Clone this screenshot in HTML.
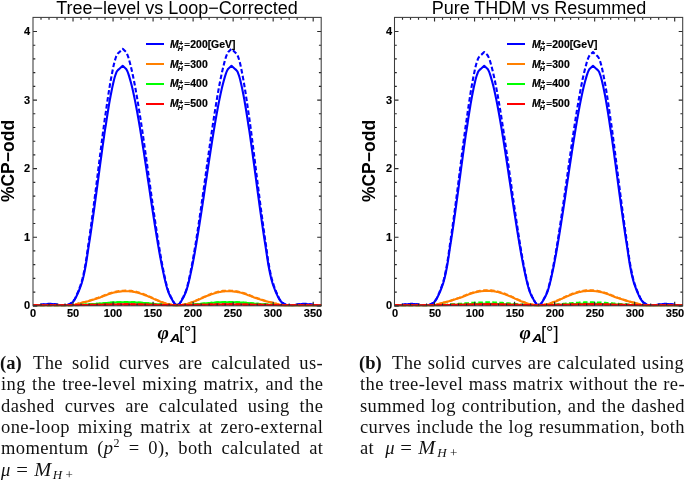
<!DOCTYPE html>
<html><head><meta charset="utf-8"><style>
html,body{margin:0;padding:0;background:#fff;}
.cl,.ttl,.yt,.xt,.yl,.xl,.lt{will-change:transform;}
body{width:685px;height:480px;position:relative;overflow:hidden;font-family:"Liberation Sans",sans-serif;}
svg{position:absolute;left:0;top:0;}
.ttl{position:absolute;top:-2.2px;width:400px;text-align:center;font-size:18px;line-height:20px;white-space:nowrap;color:#000;}
.yt{position:absolute;width:37px;text-align:right;font-weight:bold;font-size:11px;line-height:14px;-webkit-text-stroke:0.15px #000;}
.xt{position:absolute;top:305.8px;width:40px;text-align:center;font-weight:bold;font-size:11px;line-height:14px;-webkit-text-stroke:0.15px #000;}
.yl{position:absolute;width:200px;height:20px;line-height:20px;text-align:center;font-weight:bold;font-size:17.5px;transform:rotate(-90deg);white-space:nowrap;}
.xl{position:absolute;top:322px;width:100px;text-align:center;font-size:18.5px;line-height:20px;white-space:nowrap;}
.xl .phi{font-family:"Liberation Serif";font-size:19.5px;font-weight:bold;position:relative;top:0.8px;}
.xl .sub{display:inline-block;font-weight:bold;font-size:11.8px;position:relative;top:4.0px;margin-left:1.5px;margin-right:0.1px;transform:scaleX(1.22);transform-origin:0 0;}
.xl .br{position:relative;top:0.8px;}
.lg{position:absolute;width:18px;height:2px;}
.lt{position:absolute;font-weight:bold;font-size:10.4px;line-height:14px;white-space:nowrap;-webkit-text-stroke:0.2px #000;}
.lt .ss{display:inline-block;position:relative;width:5px;height:10px;}
.lt .sp{position:absolute;left:0.3px;top:-1.5px;font-size:7px;}
.lt .eq{display:inline-block;transform:scale(0.95,0.62);transform-origin:50% 62%;margin-right:0.6px;}
.lt .sb{position:absolute;left:-0.8px;top:4px;font-size:7px;}
.cl{position:absolute;font-family:"Liberation Serif",serif;font-size:18.5px;line-height:22px;letter-spacing:0.4px;white-space:nowrap;color:#111;}
.cl.j{text-align:justify;text-align-last:justify;white-space:normal;}
.m{position:relative;display:inline-block;width:75px;height:10px;}
.m>*{position:absolute;top:-7.24px;}
.m .s{font-size:13px;top:-1.9px;}
.cl sup{font-size:12px;line-height:0;vertical-align:7px;}
.cl sub{font-size:12px;line-height:0;vertical-align:-4px;}
</style></head><body>
<svg width="685" height="480" viewBox="0 0 685 480">
<clipPath id="c33"><rect x="31.0" y="14.399999999999999" width="292.2" height="291.95000000000005"/></clipPath><g clip-path="url(#c33)">
<path d="M33.0,305.8 33.8,305.8 34.6,305.8 35.4,305.7 36.2,305.6 37.0,305.6 37.8,305.5 38.6,305.3 39.4,305.1 40.2,305.0 41.0,304.8 41.8,304.7 42.6,304.6 43.4,304.5 44.2,304.4 45.0,304.3 45.8,304.2 46.6,304.2 47.4,304.1 48.2,304.1 49.0,304.0 49.8,304.0 50.6,304.0 51.4,304.0 52.2,304.1 53.0,304.1 53.8,304.2 54.6,304.2 55.4,304.3 56.2,304.5 57.0,304.7 57.8,304.8 58.6,305.0 59.4,305.1 60.2,305.1 61.0,305.2 61.8,305.3 62.6,305.3 63.4,305.3 64.2,305.3 65.0,305.2 65.8,305.2 66.6,305.1 67.4,304.9 68.2,304.7 69.0,304.4 69.8,304.0 70.6,303.6 71.4,303.2 72.2,302.5 73.0,301.7 73.8,300.8 74.6,299.7 75.4,298.3 76.2,296.7 77.0,295.1 77.8,293.3 78.6,291.5 79.4,289.5 80.2,287.4 81.0,285.2 81.8,282.8 82.6,280.0 83.4,276.8 84.2,273.2 85.0,269.2 85.8,265.0 86.6,260.2 87.4,254.8 88.2,249.4 89.0,244.2 89.8,239.1 90.6,233.8 91.4,228.4 92.2,222.8 93.0,217.2 93.8,211.5 94.6,205.8 95.4,199.9 96.2,194.1 97.0,188.1 97.8,182.2 98.6,176.2 99.4,170.2 100.2,164.2 101.0,158.3 101.8,152.4 102.6,146.7 103.4,141.0 104.2,135.4 105.0,129.9 105.9,124.5 106.7,119.2 107.5,114.0 108.3,109.0 109.1,104.2 109.9,99.6 110.7,95.3 111.5,91.2 112.3,87.4 113.1,83.7 113.9,80.2 114.7,77.3 115.5,74.8 116.3,72.6 117.1,71.1 117.9,70.1 118.7,69.4 119.5,68.7 122.7,65.8 125.9,68.7 126.7,69.9 127.5,71.5 128.3,73.6 129.1,76.1 129.9,78.9 130.7,81.7 131.5,84.8 132.3,88.1 133.1,91.6 133.9,95.3 134.7,99.1 135.5,103.1 136.3,107.3 137.1,111.6 137.9,116.0 138.7,120.6 139.5,125.3 140.3,130.1 141.1,135.0 141.9,139.9 142.7,145.0 143.5,150.1 144.3,155.3 145.1,160.5 145.9,165.8 146.7,171.1 147.5,176.5 148.3,181.9 149.1,187.2 149.9,192.6 150.7,198.0 151.5,203.3 152.3,208.6 153.1,213.8 153.9,218.9 154.7,224.0 155.5,229.1 156.3,234.0 157.1,238.9 157.9,243.8 158.7,248.4 159.5,253.0 160.3,257.4 161.1,261.6 161.9,265.7 162.7,269.6 163.5,273.4 164.3,277.1 165.1,280.6 165.9,283.8 166.7,286.8 167.5,289.5 168.3,291.9 169.1,293.8 169.9,295.6 170.7,297.2 171.5,298.6 172.3,300.0 173.1,301.4 173.9,302.7 174.7,303.8 175.5,304.6 176.3,305.1 177.1,305.3 177.9,305.1 178.7,304.6 179.5,303.8 180.3,302.7 181.1,301.4 181.9,300.0 182.7,298.6 183.5,297.2 184.3,295.6 185.1,293.8 185.9,291.9 186.7,289.5 187.5,286.8 188.3,283.8 189.1,280.6 189.9,277.1 190.7,273.4 191.5,269.6 192.3,265.7 193.1,261.6 193.9,257.4 194.7,253.0 195.5,248.4 196.3,243.8 197.1,238.9 197.9,234.0 198.7,229.1 199.5,224.0 200.3,218.9 201.1,213.8 201.9,208.6 202.7,203.3 203.5,198.0 204.3,192.6 205.1,187.2 205.9,181.9 206.7,176.5 207.5,171.1 208.3,165.8 209.1,160.5 209.9,155.3 210.7,150.1 211.5,145.0 212.3,139.9 213.1,135.0 213.9,130.1 214.7,125.3 215.5,120.6 216.3,116.0 217.1,111.6 217.9,107.3 218.7,103.1 219.5,99.1 220.3,95.3 221.1,91.6 221.9,88.1 222.7,84.8 223.5,81.7 224.3,78.9 225.1,76.1 225.9,73.6 226.7,71.5 227.5,69.9 228.3,68.7 231.5,65.8 234.7,68.7 235.5,69.4 236.3,70.1 237.1,71.1 237.9,72.6 238.7,74.8 239.5,77.3 240.3,80.2 241.1,83.7 241.9,87.4 242.7,91.2 243.5,95.3 244.3,99.6 245.1,104.2 245.9,109.0 246.7,114.0 247.5,119.2 248.3,124.5 249.2,129.9 250.0,135.4 250.8,141.0 251.6,146.7 252.4,152.4 253.2,158.3 254.0,164.2 254.8,170.2 255.6,176.2 256.4,182.2 257.2,188.1 258.0,194.1 258.8,199.9 259.6,205.8 260.4,211.5 261.2,217.2 262.0,222.8 262.8,228.4 263.6,233.8 264.4,239.1 265.2,244.2 266.0,249.4 266.8,254.8 267.6,260.2 268.4,265.0 269.2,269.2 270.0,273.2 270.8,276.8 271.6,280.0 272.4,282.8 273.2,285.2 274.0,287.4 274.8,289.5 275.6,291.5 276.4,293.3 277.2,295.1 278.0,296.7 278.8,298.3 279.6,299.7 280.4,300.8 281.2,301.7 282.0,302.5 282.8,303.2 283.6,303.6 284.4,304.0 285.2,304.4 286.0,304.7 286.8,304.9 287.6,305.1 288.4,305.2 289.2,305.2 290.0,305.3 290.8,305.3 291.6,305.3 292.4,305.3 293.2,305.2 294.0,305.1 294.8,305.1 295.6,305.0 296.4,304.8 297.2,304.7 298.0,304.5 298.8,304.3 299.6,304.2 300.4,304.2 301.2,304.1 302.0,304.1 302.8,304.0 303.6,304.0 304.4,304.0 305.2,304.0 306.0,304.1 306.8,304.1 307.6,304.2 308.4,304.2 309.2,304.3 310.0,304.4 310.8,304.5 311.6,304.6 312.4,304.7 313.2,304.8 314.0,305.0 314.8,305.1 315.6,305.3 316.4,305.5 317.2,305.6 318.0,305.6 318.8,305.7 319.6,305.8 320.4,305.8 321.2,305.8" fill="none" stroke="#0000ff" stroke-width="2.1" stroke-linejoin="round"/>
<path d="M33.0,305.8 33.8,305.8 34.6,305.8 35.4,305.8 36.2,305.8 37.0,305.8 37.8,305.8 38.6,305.8 39.4,305.8 40.2,305.8 41.0,305.8 41.8,305.8 42.6,305.8 43.4,305.8 44.2,305.8 45.0,305.8 45.8,305.8 46.6,305.8 47.4,305.8 48.2,305.8 49.0,305.8 49.8,305.8 50.6,305.8 51.4,305.8 52.2,305.8 53.0,305.8 53.8,305.8 54.6,305.8 55.4,305.8 56.2,305.8 57.0,305.8 57.8,305.8 58.6,305.8 59.4,305.8 60.2,305.8 61.0,305.8 61.8,305.8 62.6,305.8 63.4,305.8 64.2,305.8 65.0,305.8 65.8,305.8 66.6,305.8 67.4,305.8 68.2,305.8 69.0,305.7 69.8,305.7 70.6,305.6 71.4,305.5 72.2,305.4 73.0,305.3 73.8,305.1 74.6,304.9 75.4,304.6 76.2,304.3 77.0,304.0 77.8,303.8 78.6,303.6 79.4,303.4 80.2,303.2 81.0,303.0 81.8,302.8 82.6,302.6 83.4,302.5 84.2,302.3 85.0,302.1 85.8,301.9 86.6,301.6 87.4,301.4 88.2,301.2 89.0,301.0 89.8,300.7 90.6,300.5 91.4,300.2 92.2,300.0 93.0,299.7 93.8,299.4 94.6,299.2 95.4,298.9 96.2,298.7 97.0,298.4 97.8,298.2 98.6,297.9 99.4,297.7 100.2,297.4 101.0,297.1 101.8,296.8 102.6,296.5 103.4,296.1 104.2,295.8 105.0,295.5 105.9,295.2 106.7,294.9 107.5,294.6 108.3,294.3 109.1,294.0 109.9,293.7 110.7,293.5 111.5,293.2 112.3,293.0 113.1,292.8 113.9,292.6 114.7,292.4 115.5,292.3 116.3,292.1 117.1,292.0 117.9,291.8 118.7,291.7 119.5,291.6 122.7,291.3 125.9,291.2 126.7,291.2 127.5,291.2 128.3,291.3 129.1,291.3 129.9,291.4 130.7,291.5 131.5,291.5 132.3,291.6 133.1,291.7 133.9,291.9 134.7,292.0 135.5,292.2 136.3,292.4 137.1,292.6 137.9,292.8 138.7,293.0 139.5,293.3 140.3,293.5 141.1,293.8 141.9,294.0 142.7,294.3 143.5,294.6 144.3,294.9 145.1,295.2 145.9,295.5 146.7,295.8 147.5,296.1 148.3,296.4 149.1,296.7 149.9,297.1 150.7,297.4 151.5,297.8 152.3,298.2 153.1,298.5 153.9,298.9 154.7,299.2 155.5,299.6 156.3,299.9 157.1,300.3 157.9,300.6 158.7,300.9 159.5,301.3 160.3,301.6 161.1,301.9 161.9,302.2 162.7,302.5 163.5,302.8 164.3,303.1 165.1,303.3 165.9,303.5 166.7,303.8 167.5,304.0 168.3,304.1 169.1,304.3 169.9,304.5 170.7,304.7 171.5,304.8 172.3,305.0 173.1,305.1 173.9,305.3 174.7,305.4 175.5,305.6 176.3,305.7 177.1,305.8 177.9,305.7 178.7,305.6 179.5,305.4 180.3,305.3 181.1,305.1 181.9,305.0 182.7,304.8 183.5,304.7 184.3,304.5 185.1,304.3 185.9,304.1 186.7,304.0 187.5,303.8 188.3,303.5 189.1,303.3 189.9,303.1 190.7,302.8 191.5,302.5 192.3,302.2 193.1,301.9 193.9,301.6 194.7,301.3 195.5,300.9 196.3,300.6 197.1,300.3 197.9,299.9 198.7,299.6 199.5,299.2 200.3,298.9 201.1,298.5 201.9,298.2 202.7,297.8 203.5,297.4 204.3,297.1 205.1,296.7 205.9,296.4 206.7,296.1 207.5,295.8 208.3,295.5 209.1,295.2 209.9,294.9 210.7,294.6 211.5,294.3 212.3,294.0 213.1,293.8 213.9,293.5 214.7,293.3 215.5,293.0 216.3,292.8 217.1,292.6 217.9,292.4 218.7,292.2 219.5,292.0 220.3,291.9 221.1,291.7 221.9,291.6 222.7,291.5 223.5,291.5 224.3,291.4 225.1,291.3 225.9,291.3 226.7,291.2 227.5,291.2 228.3,291.2 231.5,291.3 234.7,291.6 235.5,291.7 236.3,291.8 237.1,292.0 237.9,292.1 238.7,292.3 239.5,292.4 240.3,292.6 241.1,292.8 241.9,293.0 242.7,293.2 243.5,293.5 244.3,293.7 245.1,294.0 245.9,294.3 246.7,294.6 247.5,294.9 248.3,295.2 249.2,295.5 250.0,295.8 250.8,296.1 251.6,296.5 252.4,296.8 253.2,297.1 254.0,297.4 254.8,297.7 255.6,297.9 256.4,298.2 257.2,298.4 258.0,298.7 258.8,298.9 259.6,299.2 260.4,299.4 261.2,299.7 262.0,300.0 262.8,300.2 263.6,300.5 264.4,300.7 265.2,301.0 266.0,301.2 266.8,301.4 267.6,301.6 268.4,301.9 269.2,302.1 270.0,302.3 270.8,302.5 271.6,302.6 272.4,302.8 273.2,303.0 274.0,303.2 274.8,303.4 275.6,303.6 276.4,303.8 277.2,304.0 278.0,304.3 278.8,304.6 279.6,304.9 280.4,305.1 281.2,305.3 282.0,305.4 282.8,305.5 283.6,305.6 284.4,305.7 285.2,305.7 286.0,305.8 286.8,305.8 287.6,305.8 288.4,305.8 289.2,305.8 290.0,305.8 290.8,305.8 291.6,305.8 292.4,305.8 293.2,305.8 294.0,305.8 294.8,305.8 295.6,305.8 296.4,305.8 297.2,305.8 298.0,305.8 298.8,305.8 299.6,305.8 300.4,305.8 301.2,305.8 302.0,305.8 302.8,305.8 303.6,305.8 304.4,305.8 305.2,305.8 306.0,305.8 306.8,305.8 307.6,305.8 308.4,305.8 309.2,305.8 310.0,305.8 310.8,305.8 311.6,305.8 312.4,305.8 313.2,305.8 314.0,305.8 314.8,305.8 315.6,305.8 316.4,305.8 317.2,305.8 318.0,305.8 318.8,305.8 319.6,305.8 320.4,305.8 321.2,305.8" fill="none" stroke="#ff8000" stroke-width="2.1" stroke-linejoin="round"/>
<path d="M33.0,305.5 33.8,305.5 34.6,305.5 35.4,305.5 36.2,305.5 37.0,305.5 37.8,305.5 38.6,305.5 39.4,305.5 40.2,305.5 41.0,305.5 41.8,305.5 42.6,305.5 43.4,305.5 44.2,305.5 45.0,305.5 45.8,305.5 46.6,305.5 47.4,305.5 48.2,305.5 49.0,305.5 49.8,305.5 50.6,305.5 51.4,305.5 52.2,305.5 53.0,305.5 53.8,305.5 54.6,305.5 55.4,305.5 56.2,305.5 57.0,305.5 57.8,305.5 58.6,305.5 59.4,305.5 60.2,305.5 61.0,305.5 61.8,305.5 62.6,305.5 63.4,305.5 64.2,305.5 65.0,305.5 65.8,305.5 66.6,305.5 67.4,305.5 68.2,305.5 69.0,305.5 69.8,305.5 70.6,305.5 71.4,305.5 72.2,305.4 73.0,305.4 73.8,305.4 74.6,305.3 75.4,305.3 76.2,305.2 77.0,305.1 77.8,305.1 78.6,305.0 79.4,305.0 80.2,304.9 81.0,304.9 81.8,304.9 82.6,304.8 83.4,304.8 84.2,304.7 85.0,304.7 85.8,304.6 86.6,304.6 87.4,304.5 88.2,304.5 89.0,304.4 89.8,304.4 90.6,304.3 91.4,304.3 92.2,304.2 93.0,304.2 93.8,304.1 94.6,304.0 95.4,304.0 96.2,303.9 97.0,303.9 97.8,303.8 98.6,303.8 99.4,303.7 100.2,303.6 101.0,303.6 101.8,303.5 102.6,303.4 103.4,303.3 104.2,303.3 105.0,303.2 105.9,303.1 106.7,303.1 107.5,303.0 108.3,302.9 109.1,302.9 109.9,302.8 110.7,302.7 111.5,302.7 112.3,302.6 113.1,302.6 113.9,302.6 114.7,302.5 115.5,302.5 116.3,302.4 117.1,302.4 117.9,302.4 118.7,302.4 119.5,302.3 122.7,302.3 125.9,302.2 126.7,302.2 127.5,302.2 128.3,302.3 129.1,302.3 129.9,302.3 130.7,302.3 131.5,302.3 132.3,302.3 133.1,302.4 133.9,302.4 134.7,302.4 135.5,302.5 136.3,302.5 137.1,302.6 137.9,302.6 138.7,302.7 139.5,302.7 140.3,302.8 141.1,302.8 141.9,302.9 142.7,302.9 143.5,303.0 144.3,303.1 145.1,303.1 145.9,303.2 146.7,303.3 147.5,303.3 148.3,303.4 149.1,303.5 149.9,303.6 150.7,303.6 151.5,303.7 152.3,303.8 153.1,303.9 153.9,304.0 154.7,304.0 155.5,304.1 156.3,304.2 157.1,304.3 157.9,304.4 158.7,304.4 159.5,304.5 160.3,304.6 161.1,304.6 161.9,304.7 162.7,304.8 163.5,304.9 164.3,304.9 165.1,305.0 165.9,305.0 166.7,305.1 167.5,305.1 168.3,305.2 169.1,305.2 169.9,305.2 170.7,305.3 171.5,305.3 172.3,305.3 173.1,305.4 173.9,305.4 174.7,305.4 175.5,305.5 176.3,305.5 177.1,305.5 177.9,305.5 178.7,305.5 179.5,305.4 180.3,305.4 181.1,305.4 181.9,305.3 182.7,305.3 183.5,305.3 184.3,305.2 185.1,305.2 185.9,305.2 186.7,305.1 187.5,305.1 188.3,305.0 189.1,305.0 189.9,304.9 190.7,304.9 191.5,304.8 192.3,304.7 193.1,304.6 193.9,304.6 194.7,304.5 195.5,304.4 196.3,304.4 197.1,304.3 197.9,304.2 198.7,304.1 199.5,304.0 200.3,304.0 201.1,303.9 201.9,303.8 202.7,303.7 203.5,303.6 204.3,303.6 205.1,303.5 205.9,303.4 206.7,303.3 207.5,303.3 208.3,303.2 209.1,303.1 209.9,303.1 210.7,303.0 211.5,302.9 212.3,302.9 213.1,302.8 213.9,302.8 214.7,302.7 215.5,302.7 216.3,302.6 217.1,302.6 217.9,302.5 218.7,302.5 219.5,302.4 220.3,302.4 221.1,302.4 221.9,302.3 222.7,302.3 223.5,302.3 224.3,302.3 225.1,302.3 225.9,302.3 226.7,302.2 227.5,302.2 228.3,302.2 231.5,302.3 234.7,302.3 235.5,302.4 236.3,302.4 237.1,302.4 237.9,302.4 238.7,302.5 239.5,302.5 240.3,302.6 241.1,302.6 241.9,302.6 242.7,302.7 243.5,302.7 244.3,302.8 245.1,302.9 245.9,302.9 246.7,303.0 247.5,303.1 248.3,303.1 249.2,303.2 250.0,303.3 250.8,303.3 251.6,303.4 252.4,303.5 253.2,303.6 254.0,303.6 254.8,303.7 255.6,303.8 256.4,303.8 257.2,303.9 258.0,303.9 258.8,304.0 259.6,304.0 260.4,304.1 261.2,304.2 262.0,304.2 262.8,304.3 263.6,304.3 264.4,304.4 265.2,304.4 266.0,304.5 266.8,304.5 267.6,304.6 268.4,304.6 269.2,304.7 270.0,304.7 270.8,304.8 271.6,304.8 272.4,304.9 273.2,304.9 274.0,304.9 274.8,305.0 275.6,305.0 276.4,305.1 277.2,305.1 278.0,305.2 278.8,305.3 279.6,305.3 280.4,305.4 281.2,305.4 282.0,305.4 282.8,305.5 283.6,305.5 284.4,305.5 285.2,305.5 286.0,305.5 286.8,305.5 287.6,305.5 288.4,305.5 289.2,305.5 290.0,305.5 290.8,305.5 291.6,305.5 292.4,305.5 293.2,305.5 294.0,305.5 294.8,305.5 295.6,305.5 296.4,305.5 297.2,305.5 298.0,305.5 298.8,305.5 299.6,305.5 300.4,305.5 301.2,305.5 302.0,305.5 302.8,305.5 303.6,305.5 304.4,305.5 305.2,305.5 306.0,305.5 306.8,305.5 307.6,305.5 308.4,305.5 309.2,305.5 310.0,305.5 310.8,305.5 311.6,305.5 312.4,305.5 313.2,305.5 314.0,305.5 314.8,305.5 315.6,305.5 316.4,305.5 317.2,305.5 318.0,305.5 318.8,305.5 319.6,305.5 320.4,305.5 321.2,305.5" fill="none" stroke="#00ff00" stroke-width="2.1" stroke-linejoin="round"/>
<path d="M33.0,305.8 33.8,305.8 34.6,305.7 35.4,305.7 36.2,305.6 37.0,305.5 37.8,305.4 38.6,305.3 39.4,305.1 40.2,304.9 41.0,304.8 41.8,304.6 42.6,304.5 43.4,304.4 44.2,304.3 45.0,304.2 45.8,304.1 46.6,304.1 47.4,304.0 48.2,303.9 49.0,303.9 49.8,303.9 50.6,303.9 51.4,303.9 52.2,303.9 53.0,304.0 53.8,304.1 54.6,304.1 55.4,304.2 56.2,304.4 57.0,304.6 57.8,304.8 58.6,304.9 59.4,305.0 60.2,305.1 61.0,305.2 61.8,305.2 62.6,305.3 63.4,305.3 64.2,305.3 65.0,305.2 65.8,305.1 66.6,305.0 67.4,304.9 68.2,304.6 69.0,304.3 69.8,303.9 70.6,303.5 71.4,303.0 72.2,302.3 73.0,301.5 73.8,300.4 74.6,299.3 75.4,297.8 76.2,296.1 77.0,294.3 77.8,292.4 78.6,290.4 79.4,288.3 80.2,286.1 81.0,283.7 81.8,281.1 82.6,278.2 83.4,274.8 84.2,270.9 85.0,266.7 85.8,262.1 86.6,256.9 87.4,251.2 88.2,245.4 89.0,239.9 89.8,234.4 90.6,228.7 91.4,222.9 92.2,217.0 93.0,211.0 93.8,204.9 94.6,198.7 95.4,192.5 96.2,186.2 97.0,179.8 97.8,173.5 98.6,167.0 99.4,160.6 100.2,154.2 101.0,147.9 101.8,141.6 102.6,135.4 103.4,129.3 104.2,123.3 105.0,117.4 105.9,111.7 106.7,106.0 107.5,100.5 108.3,95.1 109.1,90.0 109.9,85.1 110.7,80.4 111.5,76.1 112.3,72.0 113.1,68.0 113.9,64.3 114.7,61.2 115.5,58.5 116.3,56.2 117.1,54.5 117.9,53.4 118.7,52.7 119.5,51.9 122.7,48.8 125.9,51.9 126.7,53.2 127.5,55.0 128.3,57.2 129.1,59.9 129.9,62.8 130.7,65.9 131.5,69.2 132.3,72.7 133.1,76.5 133.9,80.4 134.7,84.5 135.5,88.8 136.3,93.3 137.1,97.9 137.9,102.7 138.7,107.6 139.5,112.6 140.3,117.7 141.1,122.9 141.9,128.2 142.7,133.6 143.5,139.1 144.3,144.7 145.1,150.3 145.9,155.9 146.7,161.6 147.5,167.4 148.3,173.1 149.1,178.9 149.9,184.6 150.7,190.4 151.5,196.1 152.3,201.7 153.1,207.3 153.9,212.8 154.7,218.2 155.5,223.6 156.3,229.0 157.1,234.2 157.9,239.4 158.7,244.4 159.5,249.2 160.3,254.0 161.1,258.5 161.9,262.9 162.7,267.1 163.5,271.1 164.3,275.0 165.1,278.8 165.9,282.3 166.7,285.5 167.5,288.4 168.3,290.9 169.1,293.0 169.9,294.8 170.7,296.5 171.5,298.1 172.3,299.6 173.1,301.1 173.9,302.5 174.7,303.6 175.5,304.5 176.3,305.0 177.1,305.3 177.9,305.0 178.7,304.5 179.5,303.6 180.3,302.5 181.1,301.1 181.9,299.6 182.7,298.1 183.5,296.5 184.3,294.8 185.1,293.0 185.9,290.9 186.7,288.4 187.5,285.5 188.3,282.3 189.1,278.8 189.9,275.0 190.7,271.1 191.5,267.1 192.3,262.9 193.1,258.5 193.9,254.0 194.7,249.2 195.5,244.4 196.3,239.4 197.1,234.2 197.9,229.0 198.7,223.6 199.5,218.2 200.3,212.8 201.1,207.3 201.9,201.7 202.7,196.1 203.5,190.4 204.3,184.6 205.1,178.9 205.9,173.1 206.7,167.4 207.5,161.6 208.3,155.9 209.1,150.3 209.9,144.7 210.7,139.1 211.5,133.6 212.3,128.2 213.1,122.9 213.9,117.7 214.7,112.6 215.5,107.6 216.3,102.7 217.1,97.9 217.9,93.3 218.7,88.8 219.5,84.5 220.3,80.4 221.1,76.5 221.9,72.7 222.7,69.2 223.5,65.9 224.3,62.8 225.1,59.9 225.9,57.2 226.7,55.0 227.5,53.2 228.3,51.9 231.5,48.8 234.7,51.9 235.5,52.7 236.3,53.4 237.1,54.5 237.9,56.2 238.7,58.5 239.5,61.2 240.3,64.3 241.1,68.0 241.9,72.0 242.7,76.1 243.5,80.4 244.3,85.1 245.1,90.0 245.9,95.1 246.7,100.5 247.5,106.0 248.3,111.7 249.2,117.4 250.0,123.3 250.8,129.3 251.6,135.4 252.4,141.6 253.2,147.9 254.0,154.2 254.8,160.6 255.6,167.0 256.4,173.5 257.2,179.8 258.0,186.2 258.8,192.5 259.6,198.7 260.4,204.9 261.2,211.0 262.0,217.0 262.8,222.9 263.6,228.7 264.4,234.4 265.2,239.9 266.0,245.4 266.8,251.2 267.6,256.9 268.4,262.1 269.2,266.7 270.0,270.9 270.8,274.8 271.6,278.2 272.4,281.1 273.2,283.7 274.0,286.1 274.8,288.3 275.6,290.4 276.4,292.4 277.2,294.3 278.0,296.1 278.8,297.8 279.6,299.3 280.4,300.4 281.2,301.5 282.0,302.3 282.8,303.0 283.6,303.5 284.4,303.9 285.2,304.3 286.0,304.6 286.8,304.9 287.6,305.0 288.4,305.1 289.2,305.2 290.0,305.3 290.8,305.3 291.6,305.3 292.4,305.2 293.2,305.2 294.0,305.1 294.8,305.0 295.6,304.9 296.4,304.8 297.2,304.6 298.0,304.4 298.8,304.2 299.6,304.1 300.4,304.1 301.2,304.0 302.0,303.9 302.8,303.9 303.6,303.9 304.4,303.9 305.2,303.9 306.0,303.9 306.8,304.0 307.6,304.1 308.4,304.1 309.2,304.2 310.0,304.3 310.8,304.4 311.6,304.5 312.4,304.6 313.2,304.8 314.0,304.9 314.8,305.1 315.6,305.3 316.4,305.4 317.2,305.5 318.0,305.6 318.8,305.7 319.6,305.7 320.4,305.8 321.2,305.8" fill="none" stroke="#0000ff" stroke-width="2.1" stroke-linejoin="round" stroke-dasharray="4.6,2.4"/>
<path d="M33.0,305.8 33.8,305.8 34.6,305.8 35.4,305.8 36.2,305.8 37.0,305.8 37.8,305.8 38.6,305.8 39.4,305.8 40.2,305.8 41.0,305.8 41.8,305.8 42.6,305.8 43.4,305.8 44.2,305.8 45.0,305.8 45.8,305.8 46.6,305.8 47.4,305.8 48.2,305.8 49.0,305.8 49.8,305.8 50.6,305.8 51.4,305.8 52.2,305.8 53.0,305.8 53.8,305.8 54.6,305.8 55.4,305.8 56.2,305.8 57.0,305.8 57.8,305.8 58.6,305.8 59.4,305.8 60.2,305.8 61.0,305.8 61.8,305.8 62.6,305.8 63.4,305.8 64.2,305.8 65.0,305.8 65.8,305.8 66.6,305.8 67.4,305.8 68.2,305.8 69.0,305.7 69.8,305.7 70.6,305.6 71.4,305.5 72.2,305.4 73.0,305.3 73.8,305.1 74.6,304.8 75.4,304.6 76.2,304.3 77.0,304.0 77.8,303.7 78.6,303.5 79.4,303.3 80.2,303.1 81.0,302.9 81.8,302.7 82.6,302.5 83.4,302.3 84.2,302.1 85.0,301.9 85.8,301.7 86.6,301.5 87.4,301.2 88.2,301.0 89.0,300.8 89.8,300.5 90.6,300.3 91.4,300.0 92.2,299.7 93.0,299.5 93.8,299.2 94.6,298.9 95.4,298.6 96.2,298.4 97.0,298.1 97.8,297.9 98.6,297.6 99.4,297.3 100.2,297.0 101.0,296.7 101.8,296.4 102.6,296.1 103.4,295.7 104.2,295.4 105.0,295.1 105.9,294.8 106.7,294.4 107.5,294.1 108.3,293.8 109.1,293.5 109.9,293.2 110.7,292.9 111.5,292.7 112.3,292.5 113.1,292.3 113.9,292.1 114.7,291.9 115.5,291.7 116.3,291.5 117.1,291.4 117.9,291.2 118.7,291.1 119.5,291.0 122.7,290.7 125.9,290.6 126.7,290.6 127.5,290.6 128.3,290.7 129.1,290.7 129.9,290.8 130.7,290.9 131.5,290.9 132.3,291.0 133.1,291.1 133.9,291.3 134.7,291.4 135.5,291.6 136.3,291.8 137.1,292.1 137.9,292.3 138.7,292.5 139.5,292.7 140.3,293.0 141.1,293.2 141.9,293.5 142.7,293.8 143.5,294.1 144.3,294.4 145.1,294.7 145.9,295.0 146.7,295.4 147.5,295.7 148.3,296.0 149.1,296.4 149.9,296.7 150.7,297.1 151.5,297.5 152.3,297.8 153.1,298.2 153.9,298.6 154.7,299.0 155.5,299.3 156.3,299.7 157.1,300.0 157.9,300.4 158.7,300.7 159.5,301.1 160.3,301.4 161.1,301.7 161.9,302.1 162.7,302.4 163.5,302.7 164.3,303.0 165.1,303.2 165.9,303.4 166.7,303.7 167.5,303.9 168.3,304.1 169.1,304.3 169.9,304.4 170.7,304.6 171.5,304.8 172.3,305.0 173.1,305.1 173.9,305.3 174.7,305.4 175.5,305.5 176.3,305.7 177.1,305.8 177.9,305.7 178.7,305.5 179.5,305.4 180.3,305.3 181.1,305.1 181.9,305.0 182.7,304.8 183.5,304.6 184.3,304.4 185.1,304.3 185.9,304.1 186.7,303.9 187.5,303.7 188.3,303.4 189.1,303.2 189.9,303.0 190.7,302.7 191.5,302.4 192.3,302.1 193.1,301.7 193.9,301.4 194.7,301.1 195.5,300.7 196.3,300.4 197.1,300.0 197.9,299.7 198.7,299.3 199.5,299.0 200.3,298.6 201.1,298.2 201.9,297.8 202.7,297.5 203.5,297.1 204.3,296.7 205.1,296.4 205.9,296.0 206.7,295.7 207.5,295.4 208.3,295.0 209.1,294.7 209.9,294.4 210.7,294.1 211.5,293.8 212.3,293.5 213.1,293.2 213.9,293.0 214.7,292.7 215.5,292.5 216.3,292.3 217.1,292.1 217.9,291.8 218.7,291.6 219.5,291.4 220.3,291.3 221.1,291.1 221.9,291.0 222.7,290.9 223.5,290.9 224.3,290.8 225.1,290.7 225.9,290.7 226.7,290.6 227.5,290.6 228.3,290.6 231.5,290.7 234.7,291.0 235.5,291.1 236.3,291.2 237.1,291.4 237.9,291.5 238.7,291.7 239.5,291.9 240.3,292.1 241.1,292.3 241.9,292.5 242.7,292.7 243.5,292.9 244.3,293.2 245.1,293.5 245.9,293.8 246.7,294.1 247.5,294.4 248.3,294.8 249.2,295.1 250.0,295.4 250.8,295.7 251.6,296.1 252.4,296.4 253.2,296.7 254.0,297.0 254.8,297.3 255.6,297.6 256.4,297.9 257.2,298.1 258.0,298.4 258.8,298.6 259.6,298.9 260.4,299.2 261.2,299.5 262.0,299.7 262.8,300.0 263.6,300.3 264.4,300.5 265.2,300.8 266.0,301.0 266.8,301.2 267.6,301.5 268.4,301.7 269.2,301.9 270.0,302.1 270.8,302.3 271.6,302.5 272.4,302.7 273.2,302.9 274.0,303.1 274.8,303.3 275.6,303.5 276.4,303.7 277.2,304.0 278.0,304.3 278.8,304.6 279.6,304.8 280.4,305.1 281.2,305.3 282.0,305.4 282.8,305.5 283.6,305.6 284.4,305.7 285.2,305.7 286.0,305.8 286.8,305.8 287.6,305.8 288.4,305.8 289.2,305.8 290.0,305.8 290.8,305.8 291.6,305.8 292.4,305.8 293.2,305.8 294.0,305.8 294.8,305.8 295.6,305.8 296.4,305.8 297.2,305.8 298.0,305.8 298.8,305.8 299.6,305.8 300.4,305.8 301.2,305.8 302.0,305.8 302.8,305.8 303.6,305.8 304.4,305.8 305.2,305.8 306.0,305.8 306.8,305.8 307.6,305.8 308.4,305.8 309.2,305.8 310.0,305.8 310.8,305.8 311.6,305.8 312.4,305.8 313.2,305.8 314.0,305.8 314.8,305.8 315.6,305.8 316.4,305.8 317.2,305.8 318.0,305.8 318.8,305.8 319.6,305.8 320.4,305.8 321.2,305.8" fill="none" stroke="#ff8000" stroke-width="2.1" stroke-linejoin="round" stroke-dasharray="4.6,2.4"/>
<path d="M33.0,305.5 33.8,305.5 34.6,305.5 35.4,305.5 36.2,305.5 37.0,305.5 37.8,305.5 38.6,305.5 39.4,305.5 40.2,305.5 41.0,305.5 41.8,305.5 42.6,305.5 43.4,305.5 44.2,305.5 45.0,305.5 45.8,305.5 46.6,305.5 47.4,305.5 48.2,305.5 49.0,305.5 49.8,305.5 50.6,305.5 51.4,305.5 52.2,305.5 53.0,305.5 53.8,305.5 54.6,305.5 55.4,305.5 56.2,305.5 57.0,305.5 57.8,305.5 58.6,305.5 59.4,305.5 60.2,305.5 61.0,305.5 61.8,305.5 62.6,305.5 63.4,305.5 64.2,305.5 65.0,305.5 65.8,305.5 66.6,305.5 67.4,305.5 68.2,305.5 69.0,305.5 69.8,305.5 70.6,305.5 71.4,305.5 72.2,305.4 73.0,305.4 73.8,305.4 74.6,305.3 75.4,305.2 76.2,305.2 77.0,305.1 77.8,305.1 78.6,305.0 79.4,305.0 80.2,304.9 81.0,304.9 81.8,304.8 82.6,304.8 83.4,304.7 84.2,304.7 85.0,304.6 85.8,304.6 86.6,304.5 87.4,304.5 88.2,304.4 89.0,304.4 89.8,304.3 90.6,304.3 91.4,304.2 92.2,304.2 93.0,304.1 93.8,304.0 94.6,304.0 95.4,303.9 96.2,303.9 97.0,303.8 97.8,303.7 98.6,303.7 99.4,303.6 100.2,303.6 101.0,303.5 101.8,303.4 102.6,303.3 103.4,303.3 104.2,303.2 105.0,303.1 105.9,303.0 106.7,303.0 107.5,302.9 108.3,302.8 109.1,302.8 109.9,302.7 110.7,302.6 111.5,302.6 112.3,302.5 113.1,302.5 113.9,302.4 114.7,302.4 115.5,302.4 116.3,302.3 117.1,302.3 117.9,302.2 118.7,302.2 119.5,302.2 122.7,302.1 125.9,302.1 126.7,302.1 127.5,302.1 128.3,302.1 129.1,302.1 129.9,302.1 130.7,302.2 131.5,302.2 132.3,302.2 133.1,302.2 133.9,302.3 134.7,302.3 135.5,302.3 136.3,302.4 137.1,302.4 137.9,302.5 138.7,302.5 139.5,302.6 140.3,302.6 141.1,302.7 141.9,302.8 142.7,302.8 143.5,302.9 144.3,303.0 145.1,303.0 145.9,303.1 146.7,303.2 147.5,303.2 148.3,303.3 149.1,303.4 149.9,303.5 150.7,303.6 151.5,303.6 152.3,303.7 153.1,303.8 153.9,303.9 154.7,304.0 155.5,304.1 156.3,304.1 157.1,304.2 157.9,304.3 158.7,304.4 159.5,304.5 160.3,304.5 161.1,304.6 161.9,304.7 162.7,304.8 163.5,304.8 164.3,304.9 165.1,304.9 165.9,305.0 166.7,305.0 167.5,305.1 168.3,305.1 169.1,305.2 169.9,305.2 170.7,305.3 171.5,305.3 172.3,305.3 173.1,305.4 173.9,305.4 174.7,305.4 175.5,305.5 176.3,305.5 177.1,305.5 177.9,305.5 178.7,305.5 179.5,305.4 180.3,305.4 181.1,305.4 181.9,305.3 182.7,305.3 183.5,305.3 184.3,305.2 185.1,305.2 185.9,305.1 186.7,305.1 187.5,305.0 188.3,305.0 189.1,304.9 189.9,304.9 190.7,304.8 191.5,304.8 192.3,304.7 193.1,304.6 193.9,304.5 194.7,304.5 195.5,304.4 196.3,304.3 197.1,304.2 197.9,304.1 198.7,304.1 199.5,304.0 200.3,303.9 201.1,303.8 201.9,303.7 202.7,303.6 203.5,303.6 204.3,303.5 205.1,303.4 205.9,303.3 206.7,303.2 207.5,303.2 208.3,303.1 209.1,303.0 209.9,303.0 210.7,302.9 211.5,302.8 212.3,302.8 213.1,302.7 213.9,302.6 214.7,302.6 215.5,302.5 216.3,302.5 217.1,302.4 217.9,302.4 218.7,302.3 219.5,302.3 220.3,302.3 221.1,302.2 221.9,302.2 222.7,302.2 223.5,302.2 224.3,302.1 225.1,302.1 225.9,302.1 226.7,302.1 227.5,302.1 228.3,302.1 231.5,302.1 234.7,302.2 235.5,302.2 236.3,302.2 237.1,302.3 237.9,302.3 238.7,302.4 239.5,302.4 240.3,302.4 241.1,302.5 241.9,302.5 242.7,302.6 243.5,302.6 244.3,302.7 245.1,302.8 245.9,302.8 246.7,302.9 247.5,303.0 248.3,303.0 249.2,303.1 250.0,303.2 250.8,303.3 251.6,303.3 252.4,303.4 253.2,303.5 254.0,303.6 254.8,303.6 255.6,303.7 256.4,303.7 257.2,303.8 258.0,303.9 258.8,303.9 259.6,304.0 260.4,304.0 261.2,304.1 262.0,304.2 262.8,304.2 263.6,304.3 264.4,304.3 265.2,304.4 266.0,304.4 266.8,304.5 267.6,304.5 268.4,304.6 269.2,304.6 270.0,304.7 270.8,304.7 271.6,304.8 272.4,304.8 273.2,304.9 274.0,304.9 274.8,305.0 275.6,305.0 276.4,305.1 277.2,305.1 278.0,305.2 278.8,305.2 279.6,305.3 280.4,305.4 281.2,305.4 282.0,305.4 282.8,305.5 283.6,305.5 284.4,305.5 285.2,305.5 286.0,305.5 286.8,305.5 287.6,305.5 288.4,305.5 289.2,305.5 290.0,305.5 290.8,305.5 291.6,305.5 292.4,305.5 293.2,305.5 294.0,305.5 294.8,305.5 295.6,305.5 296.4,305.5 297.2,305.5 298.0,305.5 298.8,305.5 299.6,305.5 300.4,305.5 301.2,305.5 302.0,305.5 302.8,305.5 303.6,305.5 304.4,305.5 305.2,305.5 306.0,305.5 306.8,305.5 307.6,305.5 308.4,305.5 309.2,305.5 310.0,305.5 310.8,305.5 311.6,305.5 312.4,305.5 313.2,305.5 314.0,305.5 314.8,305.5 315.6,305.5 316.4,305.5 317.2,305.5 318.0,305.5 318.8,305.5 319.6,305.5 320.4,305.5 321.2,305.5" fill="none" stroke="#00ff00" stroke-width="2.1" stroke-linejoin="round" stroke-dasharray="4.6,2.4"/>
<path d="M33.0,305.2 33.8,305.2 34.6,305.2 35.4,305.2 36.2,305.2 37.0,305.2 37.8,305.2 38.6,305.2 39.4,305.2 40.2,305.2 41.0,305.2 41.8,305.2 42.6,305.2 43.4,305.2 44.2,305.2 45.0,305.2 45.8,305.2 46.6,305.2 47.4,305.2 48.2,305.2 49.0,305.2 49.8,305.2 50.6,305.2 51.4,305.2 52.2,305.2 53.0,305.2 53.8,305.2 54.6,305.2 55.4,305.2 56.2,305.2 57.0,305.2 57.8,305.2 58.6,305.2 59.4,305.2 60.2,305.2 61.0,305.2 61.8,305.2 62.6,305.2 63.4,305.2 64.2,305.2 65.0,305.2 65.8,305.2 66.6,305.2 67.4,305.2 68.2,305.2 69.0,305.2 69.8,305.2 70.6,305.2 71.4,305.2 72.2,305.2 73.0,305.2 73.8,305.1 74.6,305.1 75.4,305.1 76.2,305.1 77.0,305.1 77.8,305.1 78.6,305.1 79.4,305.0 80.2,305.0 81.0,305.0 81.8,305.0 82.6,305.0 83.4,305.0 84.2,305.0 85.0,305.0 85.8,305.0 86.6,304.9 87.4,304.9 88.2,304.9 89.0,304.9 89.8,304.9 90.6,304.9 91.4,304.9 92.2,304.9 93.0,304.8 93.8,304.8 94.6,304.8 95.4,304.8 96.2,304.8 97.0,304.8 97.8,304.8 98.6,304.7 99.4,304.7 100.2,304.7 101.0,304.7 101.8,304.7 102.6,304.7 103.4,304.6 104.2,304.6 105.0,304.6 105.9,304.6 106.7,304.6 107.5,304.6 108.3,304.5 109.1,304.5 109.9,304.5 110.7,304.5 111.5,304.5 112.3,304.5 113.1,304.5 113.9,304.4 114.7,304.4 115.5,304.4 116.3,304.4 117.1,304.4 117.9,304.4 118.7,304.4 119.5,304.4 122.7,304.4 125.9,304.4 126.7,304.4 127.5,304.4 128.3,304.4 129.1,304.4 129.9,304.4 130.7,304.4 131.5,304.4 132.3,304.4 133.1,304.4 133.9,304.4 134.7,304.4 135.5,304.4 136.3,304.4 137.1,304.4 137.9,304.5 138.7,304.5 139.5,304.5 140.3,304.5 141.1,304.5 141.9,304.5 142.7,304.5 143.5,304.6 144.3,304.6 145.1,304.6 145.9,304.6 146.7,304.6 147.5,304.6 148.3,304.7 149.1,304.7 149.9,304.7 150.7,304.7 151.5,304.7 152.3,304.8 153.1,304.8 153.9,304.8 154.7,304.8 155.5,304.8 156.3,304.9 157.1,304.9 157.9,304.9 158.7,304.9 159.5,304.9 160.3,304.9 161.1,305.0 161.9,305.0 162.7,305.0 163.5,305.0 164.3,305.0 165.1,305.0 165.9,305.1 166.7,305.1 167.5,305.1 168.3,305.1 169.1,305.1 169.9,305.1 170.7,305.1 171.5,305.1 172.3,305.1 173.1,305.1 173.9,305.2 174.7,305.2 175.5,305.2 176.3,305.2 177.1,305.2 177.9,305.2 178.7,305.2 179.5,305.2 180.3,305.2 181.1,305.1 181.9,305.1 182.7,305.1 183.5,305.1 184.3,305.1 185.1,305.1 185.9,305.1 186.7,305.1 187.5,305.1 188.3,305.1 189.1,305.0 189.9,305.0 190.7,305.0 191.5,305.0 192.3,305.0 193.1,305.0 193.9,304.9 194.7,304.9 195.5,304.9 196.3,304.9 197.1,304.9 197.9,304.9 198.7,304.8 199.5,304.8 200.3,304.8 201.1,304.8 201.9,304.8 202.7,304.7 203.5,304.7 204.3,304.7 205.1,304.7 205.9,304.7 206.7,304.6 207.5,304.6 208.3,304.6 209.1,304.6 209.9,304.6 210.7,304.6 211.5,304.5 212.3,304.5 213.1,304.5 213.9,304.5 214.7,304.5 215.5,304.5 216.3,304.5 217.1,304.4 217.9,304.4 218.7,304.4 219.5,304.4 220.3,304.4 221.1,304.4 221.9,304.4 222.7,304.4 223.5,304.4 224.3,304.4 225.1,304.4 225.9,304.4 226.7,304.4 227.5,304.4 228.3,304.4 231.5,304.4 234.7,304.4 235.5,304.4 236.3,304.4 237.1,304.4 237.9,304.4 238.7,304.4 239.5,304.4 240.3,304.4 241.1,304.5 241.9,304.5 242.7,304.5 243.5,304.5 244.3,304.5 245.1,304.5 245.9,304.5 246.7,304.6 247.5,304.6 248.3,304.6 249.2,304.6 250.0,304.6 250.8,304.6 251.6,304.7 252.4,304.7 253.2,304.7 254.0,304.7 254.8,304.7 255.6,304.7 256.4,304.8 257.2,304.8 258.0,304.8 258.8,304.8 259.6,304.8 260.4,304.8 261.2,304.8 262.0,304.9 262.8,304.9 263.6,304.9 264.4,304.9 265.2,304.9 266.0,304.9 266.8,304.9 267.6,304.9 268.4,305.0 269.2,305.0 270.0,305.0 270.8,305.0 271.6,305.0 272.4,305.0 273.2,305.0 274.0,305.0 274.8,305.0 275.6,305.1 276.4,305.1 277.2,305.1 278.0,305.1 278.8,305.1 279.6,305.1 280.4,305.1 281.2,305.2 282.0,305.2 282.8,305.2 283.6,305.2 284.4,305.2 285.2,305.2 286.0,305.2 286.8,305.2 287.6,305.2 288.4,305.2 289.2,305.2 290.0,305.2 290.8,305.2 291.6,305.2 292.4,305.2 293.2,305.2 294.0,305.2 294.8,305.2 295.6,305.2 296.4,305.2 297.2,305.2 298.0,305.2 298.8,305.2 299.6,305.2 300.4,305.2 301.2,305.2 302.0,305.2 302.8,305.2 303.6,305.2 304.4,305.2 305.2,305.2 306.0,305.2 306.8,305.2 307.6,305.2 308.4,305.2 309.2,305.2 310.0,305.2 310.8,305.2 311.6,305.2 312.4,305.2 313.2,305.2 314.0,305.2 314.8,305.2 315.6,305.2 316.4,305.2 317.2,305.2 318.0,305.2 318.8,305.2 319.6,305.2 320.4,305.2 321.2,305.2" fill="none" stroke="#ff0000" stroke-width="2.1" stroke-linejoin="round" stroke-dasharray="4.6,2.4"/>
<path d="M33.0,305.3 33.8,305.3 34.6,305.3 35.4,305.3 36.2,305.3 37.0,305.3 37.8,305.3 38.6,305.3 39.4,305.3 40.2,305.3 41.0,305.3 41.8,305.3 42.6,305.3 43.4,305.3 44.2,305.3 45.0,305.3 45.8,305.3 46.6,305.3 47.4,305.3 48.2,305.3 49.0,305.3 49.8,305.3 50.6,305.3 51.4,305.3 52.2,305.3 53.0,305.3 53.8,305.3 54.6,305.3 55.4,305.3 56.2,305.3 57.0,305.3 57.8,305.3 58.6,305.3 59.4,305.3 60.2,305.3 61.0,305.3 61.8,305.3 62.6,305.3 63.4,305.3 64.2,305.3 65.0,305.3 65.8,305.3 66.6,305.3 67.4,305.3 68.2,305.2 69.0,305.2 69.8,305.2 70.6,305.2 71.4,305.2 72.2,305.2 73.0,305.2 73.8,305.2 74.6,305.2 75.4,305.2 76.2,305.2 77.0,305.2 77.8,305.1 78.6,305.1 79.4,305.1 80.2,305.1 81.0,305.1 81.8,305.1 82.6,305.1 83.4,305.1 84.2,305.1 85.0,305.0 85.8,305.0 86.6,305.0 87.4,305.0 88.2,305.0 89.0,305.0 89.8,305.0 90.6,305.0 91.4,304.9 92.2,304.9 93.0,304.9 93.8,304.9 94.6,304.9 95.4,304.9 96.2,304.9 97.0,304.8 97.8,304.8 98.6,304.8 99.4,304.8 100.2,304.8 101.0,304.8 101.8,304.7 102.6,304.7 103.4,304.7 104.2,304.7 105.0,304.7 105.9,304.7 106.7,304.6 107.5,304.6 108.3,304.6 109.1,304.6 109.9,304.6 110.7,304.6 111.5,304.5 112.3,304.5 113.1,304.5 113.9,304.5 114.7,304.5 115.5,304.5 116.3,304.5 117.1,304.5 117.9,304.5 118.7,304.5 119.5,304.5 122.7,304.4 125.9,304.4 126.7,304.4 127.5,304.4 128.3,304.4 129.1,304.4 129.9,304.4 130.7,304.4 131.5,304.4 132.3,304.5 133.1,304.5 133.9,304.5 134.7,304.5 135.5,304.5 136.3,304.5 137.1,304.5 137.9,304.5 138.7,304.5 139.5,304.5 140.3,304.6 141.1,304.6 141.9,304.6 142.7,304.6 143.5,304.6 144.3,304.6 145.1,304.7 145.9,304.7 146.7,304.7 147.5,304.7 148.3,304.7 149.1,304.7 149.9,304.8 150.7,304.8 151.5,304.8 152.3,304.8 153.1,304.8 153.9,304.9 154.7,304.9 155.5,304.9 156.3,304.9 157.1,304.9 157.9,305.0 158.7,305.0 159.5,305.0 160.3,305.0 161.1,305.0 161.9,305.1 162.7,305.1 163.5,305.1 164.3,305.1 165.1,305.1 165.9,305.1 166.7,305.1 167.5,305.1 168.3,305.2 169.1,305.2 169.9,305.2 170.7,305.2 171.5,305.2 172.3,305.2 173.1,305.2 173.9,305.2 174.7,305.2 175.5,305.2 176.3,305.2 177.1,305.3 177.9,305.2 178.7,305.2 179.5,305.2 180.3,305.2 181.1,305.2 181.9,305.2 182.7,305.2 183.5,305.2 184.3,305.2 185.1,305.2 185.9,305.2 186.7,305.1 187.5,305.1 188.3,305.1 189.1,305.1 189.9,305.1 190.7,305.1 191.5,305.1 192.3,305.1 193.1,305.0 193.9,305.0 194.7,305.0 195.5,305.0 196.3,305.0 197.1,304.9 197.9,304.9 198.7,304.9 199.5,304.9 200.3,304.9 201.1,304.8 201.9,304.8 202.7,304.8 203.5,304.8 204.3,304.8 205.1,304.7 205.9,304.7 206.7,304.7 207.5,304.7 208.3,304.7 209.1,304.7 209.9,304.6 210.7,304.6 211.5,304.6 212.3,304.6 213.1,304.6 213.9,304.6 214.7,304.5 215.5,304.5 216.3,304.5 217.1,304.5 217.9,304.5 218.7,304.5 219.5,304.5 220.3,304.5 221.1,304.5 221.9,304.5 222.7,304.4 223.5,304.4 224.3,304.4 225.1,304.4 225.9,304.4 226.7,304.4 227.5,304.4 228.3,304.4 231.5,304.4 234.7,304.5 235.5,304.5 236.3,304.5 237.1,304.5 237.9,304.5 238.7,304.5 239.5,304.5 240.3,304.5 241.1,304.5 241.9,304.5 242.7,304.5 243.5,304.6 244.3,304.6 245.1,304.6 245.9,304.6 246.7,304.6 247.5,304.6 248.3,304.7 249.2,304.7 250.0,304.7 250.8,304.7 251.6,304.7 252.4,304.7 253.2,304.8 254.0,304.8 254.8,304.8 255.6,304.8 256.4,304.8 257.2,304.8 258.0,304.9 258.8,304.9 259.6,304.9 260.4,304.9 261.2,304.9 262.0,304.9 262.8,304.9 263.6,305.0 264.4,305.0 265.2,305.0 266.0,305.0 266.8,305.0 267.6,305.0 268.4,305.0 269.2,305.0 270.0,305.1 270.8,305.1 271.6,305.1 272.4,305.1 273.2,305.1 274.0,305.1 274.8,305.1 275.6,305.1 276.4,305.1 277.2,305.2 278.0,305.2 278.8,305.2 279.6,305.2 280.4,305.2 281.2,305.2 282.0,305.2 282.8,305.2 283.6,305.2 284.4,305.2 285.2,305.2 286.0,305.2 286.8,305.3 287.6,305.3 288.4,305.3 289.2,305.3 290.0,305.3 290.8,305.3 291.6,305.3 292.4,305.3 293.2,305.3 294.0,305.3 294.8,305.3 295.6,305.3 296.4,305.3 297.2,305.3 298.0,305.3 298.8,305.3 299.6,305.3 300.4,305.3 301.2,305.3 302.0,305.3 302.8,305.3 303.6,305.3 304.4,305.3 305.2,305.3 306.0,305.3 306.8,305.3 307.6,305.3 308.4,305.3 309.2,305.3 310.0,305.3 310.8,305.3 311.6,305.3 312.4,305.3 313.2,305.3 314.0,305.3 314.8,305.3 315.6,305.3 316.4,305.3 317.2,305.3 318.0,305.3 318.8,305.3 319.6,305.3 320.4,305.3 321.2,305.3" fill="none" stroke="#ff0000" stroke-width="2.1" stroke-linejoin="round"/>
</g>
<path d="M33.0,305.80h4.0M321.2,305.80h-4.0M33.0,292.08h2.3M321.2,292.08h-2.3M33.0,278.37h2.3M321.2,278.37h-2.3M33.0,264.65h2.3M321.2,264.65h-2.3M33.0,250.94h2.3M321.2,250.94h-2.3M33.0,237.22h4.0M321.2,237.22h-4.0M33.0,223.50h2.3M321.2,223.50h-2.3M33.0,209.79h2.3M321.2,209.79h-2.3M33.0,196.07h2.3M321.2,196.07h-2.3M33.0,182.36h2.3M321.2,182.36h-2.3M33.0,168.64h4.0M321.2,168.64h-4.0M33.0,154.92h2.3M321.2,154.92h-2.3M33.0,141.21h2.3M321.2,141.21h-2.3M33.0,127.49h2.3M321.2,127.49h-2.3M33.0,113.78h2.3M321.2,113.78h-2.3M33.0,100.06h4.0M321.2,100.06h-4.0M33.0,86.34h2.3M321.2,86.34h-2.3M33.0,72.63h2.3M321.2,72.63h-2.3M33.0,58.91h2.3M321.2,58.91h-2.3M33.0,45.20h2.3M321.2,45.20h-2.3M33.0,31.48h4.0M321.2,31.48h-4.0M41.01,305.8v-2.3M41.01,17.4v2.3M49.01,305.8v-2.3M49.01,17.4v2.3M57.02,305.8v-2.3M57.02,17.4v2.3M65.02,305.8v-2.3M65.02,17.4v2.3M73.03,305.8v-4.0M73.03,17.4v4.0M81.03,305.8v-2.3M81.03,17.4v2.3M89.04,305.8v-2.3M89.04,17.4v2.3M97.04,305.8v-2.3M97.04,17.4v2.3M105.05,305.8v-2.3M105.05,17.4v2.3M113.06,305.8v-4.0M113.06,17.4v4.0M121.06,305.8v-2.3M121.06,17.4v2.3M129.07,305.8v-2.3M129.07,17.4v2.3M137.07,305.8v-2.3M137.07,17.4v2.3M145.08,305.8v-2.3M145.08,17.4v2.3M153.08,305.8v-4.0M153.08,17.4v4.0M161.09,305.8v-2.3M161.09,17.4v2.3M169.09,305.8v-2.3M169.09,17.4v2.3M177.10,305.8v-2.3M177.10,17.4v2.3M185.11,305.8v-2.3M185.11,17.4v2.3M193.11,305.8v-4.0M193.11,17.4v4.0M201.12,305.8v-2.3M201.12,17.4v2.3M209.12,305.8v-2.3M209.12,17.4v2.3M217.13,305.8v-2.3M217.13,17.4v2.3M225.13,305.8v-2.3M225.13,17.4v2.3M233.14,305.8v-4.0M233.14,17.4v4.0M241.14,305.8v-2.3M241.14,17.4v2.3M249.15,305.8v-2.3M249.15,17.4v2.3M257.16,305.8v-2.3M257.16,17.4v2.3M265.16,305.8v-2.3M265.16,17.4v2.3M273.17,305.8v-4.0M273.17,17.4v4.0M281.17,305.8v-2.3M281.17,17.4v2.3M289.18,305.8v-2.3M289.18,17.4v2.3M297.18,305.8v-2.3M297.18,17.4v2.3M305.19,305.8v-2.3M305.19,17.4v2.3M313.19,305.8v-4.0M313.19,17.4v4.0" stroke="#2a2a2a" stroke-width="1.15" fill="none"/>
<rect x="33.0" y="17.4" width="288.2" height="288.40000000000003" fill="none" stroke="#3c3c3c" stroke-width="1.05"/>
<clipPath id="c394"><rect x="392.5" y="14.399999999999999" width="292.2" height="291.95000000000005"/></clipPath><g clip-path="url(#c394)">
<path d="M394.5,305.8 395.3,305.8 396.1,305.8 396.9,305.7 397.7,305.6 398.5,305.6 399.3,305.5 400.1,305.3 400.9,305.1 401.7,305.0 402.5,304.8 403.3,304.7 404.1,304.6 404.9,304.5 405.7,304.4 406.5,304.3 407.3,304.2 408.1,304.2 408.9,304.1 409.7,304.1 410.5,304.0 411.3,304.0 412.1,304.0 412.9,304.0 413.7,304.1 414.5,304.1 415.3,304.2 416.1,304.2 416.9,304.3 417.7,304.5 418.5,304.7 419.3,304.8 420.1,305.0 420.9,305.1 421.7,305.1 422.5,305.2 423.3,305.3 424.1,305.3 424.9,305.3 425.7,305.3 426.5,305.2 427.3,305.2 428.1,305.1 428.9,304.9 429.7,304.7 430.5,304.4 431.3,304.0 432.1,303.6 432.9,303.2 433.7,302.5 434.5,301.7 435.3,300.8 436.1,299.7 436.9,298.3 437.7,296.7 438.5,295.1 439.3,293.3 440.1,291.5 440.9,289.5 441.7,287.4 442.5,285.2 443.3,282.8 444.1,280.0 444.9,276.8 445.7,273.2 446.5,269.2 447.3,265.0 448.1,260.2 448.9,254.8 449.7,249.4 450.5,244.2 451.3,239.1 452.1,233.8 452.9,228.4 453.7,222.8 454.5,217.2 455.3,211.5 456.1,205.8 456.9,199.9 457.7,194.1 458.5,188.1 459.3,182.2 460.1,176.2 460.9,170.2 461.7,164.2 462.5,158.3 463.3,152.4 464.1,146.7 464.9,141.0 465.7,135.4 466.6,129.9 467.4,124.5 468.2,119.2 469.0,114.0 469.8,109.0 470.6,104.2 471.4,99.6 472.2,95.3 473.0,91.2 473.8,87.4 474.6,83.7 475.4,80.2 476.2,77.3 477.0,74.8 477.8,72.6 478.6,71.1 479.4,70.1 480.2,69.4 481.0,68.7 484.2,65.8 487.4,68.7 488.2,69.9 489.0,71.5 489.8,73.6 490.6,76.1 491.4,78.9 492.2,81.7 493.0,84.8 493.8,88.1 494.6,91.6 495.4,95.3 496.2,99.1 497.0,103.1 497.8,107.3 498.6,111.6 499.4,116.0 500.2,120.6 501.0,125.3 501.8,130.1 502.6,135.0 503.4,139.9 504.2,145.0 505.0,150.1 505.8,155.3 506.6,160.5 507.4,165.8 508.2,171.1 509.0,176.5 509.8,181.9 510.6,187.2 511.4,192.6 512.2,198.0 513.0,203.3 513.8,208.6 514.6,213.8 515.4,218.9 516.2,224.0 517.0,229.1 517.8,234.0 518.6,238.9 519.4,243.8 520.2,248.4 521.0,253.0 521.8,257.4 522.6,261.6 523.4,265.7 524.2,269.6 525.0,273.4 525.8,277.1 526.6,280.6 527.4,283.8 528.2,286.8 529.0,289.5 529.8,291.9 530.6,293.8 531.4,295.6 532.2,297.2 533.0,298.6 533.8,300.0 534.6,301.4 535.4,302.7 536.2,303.8 537.0,304.6 537.8,305.1 538.6,305.3 539.4,305.1 540.2,304.6 541.0,303.8 541.8,302.7 542.6,301.4 543.4,300.0 544.2,298.6 545.0,297.2 545.8,295.6 546.6,293.8 547.4,291.9 548.2,289.5 549.0,286.8 549.8,283.8 550.6,280.6 551.4,277.1 552.2,273.4 553.0,269.6 553.8,265.7 554.6,261.6 555.4,257.4 556.2,253.0 557.0,248.4 557.8,243.8 558.6,238.9 559.4,234.0 560.2,229.1 561.0,224.0 561.8,218.9 562.6,213.8 563.4,208.6 564.2,203.3 565.0,198.0 565.8,192.6 566.6,187.2 567.4,181.9 568.2,176.5 569.0,171.1 569.8,165.8 570.6,160.5 571.4,155.3 572.2,150.1 573.0,145.0 573.8,139.9 574.6,135.0 575.4,130.1 576.2,125.3 577.0,120.6 577.8,116.0 578.6,111.6 579.4,107.3 580.2,103.1 581.0,99.1 581.8,95.3 582.6,91.6 583.4,88.1 584.2,84.8 585.0,81.7 585.8,78.9 586.6,76.1 587.4,73.6 588.2,71.5 589.0,69.9 589.8,68.7 593.0,65.8 596.2,68.7 597.0,69.4 597.8,70.1 598.6,71.1 599.4,72.6 600.2,74.8 601.0,77.3 601.8,80.2 602.6,83.7 603.4,87.4 604.2,91.2 605.0,95.3 605.8,99.6 606.6,104.2 607.4,109.0 608.2,114.0 609.0,119.2 609.8,124.5 610.6,129.9 611.5,135.4 612.3,141.0 613.1,146.7 613.9,152.4 614.7,158.3 615.5,164.2 616.3,170.2 617.1,176.2 617.9,182.2 618.7,188.1 619.5,194.1 620.3,199.9 621.1,205.8 621.9,211.5 622.7,217.2 623.5,222.8 624.3,228.4 625.1,233.8 625.9,239.1 626.7,244.2 627.5,249.4 628.3,254.8 629.1,260.2 629.9,265.0 630.7,269.2 631.5,273.2 632.3,276.8 633.1,280.0 633.9,282.8 634.7,285.2 635.5,287.4 636.3,289.5 637.1,291.5 637.9,293.3 638.7,295.1 639.5,296.7 640.3,298.3 641.1,299.7 641.9,300.8 642.7,301.7 643.5,302.5 644.3,303.2 645.1,303.6 645.9,304.0 646.7,304.4 647.5,304.7 648.3,304.9 649.1,305.1 649.9,305.2 650.7,305.2 651.5,305.3 652.3,305.3 653.1,305.3 653.9,305.3 654.7,305.2 655.5,305.1 656.3,305.1 657.1,305.0 657.9,304.8 658.7,304.7 659.5,304.5 660.3,304.3 661.1,304.2 661.9,304.2 662.7,304.1 663.5,304.1 664.3,304.0 665.1,304.0 665.9,304.0 666.7,304.0 667.5,304.1 668.3,304.1 669.1,304.2 669.9,304.2 670.7,304.3 671.5,304.4 672.3,304.5 673.1,304.6 673.9,304.7 674.7,304.8 675.5,305.0 676.3,305.1 677.1,305.3 677.9,305.5 678.7,305.6 679.5,305.6 680.3,305.7 681.1,305.8 681.9,305.8 682.7,305.8" fill="none" stroke="#0000ff" stroke-width="2.1" stroke-linejoin="round"/>
<path d="M394.5,305.8 395.3,305.8 396.1,305.8 396.9,305.8 397.7,305.8 398.5,305.8 399.3,305.8 400.1,305.8 400.9,305.8 401.7,305.8 402.5,305.8 403.3,305.8 404.1,305.8 404.9,305.8 405.7,305.8 406.5,305.8 407.3,305.8 408.1,305.8 408.9,305.8 409.7,305.8 410.5,305.8 411.3,305.8 412.1,305.8 412.9,305.8 413.7,305.8 414.5,305.8 415.3,305.8 416.1,305.8 416.9,305.8 417.7,305.8 418.5,305.8 419.3,305.8 420.1,305.8 420.9,305.8 421.7,305.8 422.5,305.8 423.3,305.8 424.1,305.8 424.9,305.8 425.7,305.8 426.5,305.8 427.3,305.8 428.1,305.8 428.9,305.8 429.7,305.8 430.5,305.7 431.3,305.7 432.1,305.6 432.9,305.5 433.7,305.4 434.5,305.3 435.3,305.1 436.1,304.9 436.9,304.6 437.7,304.3 438.5,304.0 439.3,303.8 440.1,303.6 440.9,303.3 441.7,303.1 442.5,302.9 443.3,302.8 444.1,302.6 444.9,302.4 445.7,302.2 446.5,302.0 447.3,301.8 448.1,301.5 448.9,301.3 449.7,301.1 450.5,300.9 451.3,300.6 452.1,300.4 452.9,300.1 453.7,299.8 454.5,299.6 455.3,299.3 456.1,299.0 456.9,298.8 457.7,298.5 458.5,298.3 459.3,298.0 460.1,297.7 460.9,297.5 461.7,297.2 462.5,296.9 463.3,296.6 464.1,296.2 464.9,295.9 465.7,295.6 466.6,295.3 467.4,295.0 468.2,294.6 469.0,294.3 469.8,294.0 470.6,293.7 471.4,293.4 472.2,293.2 473.0,292.9 473.8,292.7 474.6,292.5 475.4,292.3 476.2,292.1 477.0,292.0 477.8,291.8 478.6,291.6 479.4,291.5 480.2,291.4 481.0,291.3 484.2,291.0 487.4,290.8 488.2,290.9 489.0,290.9 489.8,290.9 490.6,291.0 491.4,291.1 492.2,291.1 493.0,291.2 493.8,291.3 494.6,291.4 495.4,291.5 496.2,291.7 497.0,291.9 497.8,292.1 498.6,292.3 499.4,292.5 500.2,292.7 501.0,293.0 501.8,293.2 502.6,293.5 503.4,293.7 504.2,294.0 505.0,294.3 505.8,294.6 506.6,294.9 507.4,295.2 508.2,295.6 509.0,295.9 509.8,296.2 510.6,296.5 511.4,296.9 512.2,297.2 513.0,297.6 513.8,298.0 514.6,298.4 515.4,298.7 516.2,299.1 517.0,299.4 517.8,299.8 518.6,300.1 519.4,300.5 520.2,300.8 521.0,301.2 521.8,301.5 522.6,301.8 523.4,302.1 524.2,302.4 525.0,302.7 525.8,303.0 526.6,303.3 527.4,303.5 528.2,303.7 529.0,303.9 529.8,304.1 530.6,304.3 531.4,304.5 532.2,304.6 533.0,304.8 533.8,305.0 534.6,305.1 535.4,305.3 536.2,305.4 537.0,305.5 537.8,305.7 538.6,305.8 539.4,305.7 540.2,305.5 541.0,305.4 541.8,305.3 542.6,305.1 543.4,305.0 544.2,304.8 545.0,304.6 545.8,304.5 546.6,304.3 547.4,304.1 548.2,303.9 549.0,303.7 549.8,303.5 550.6,303.3 551.4,303.0 552.2,302.7 553.0,302.4 553.8,302.1 554.6,301.8 555.4,301.5 556.2,301.2 557.0,300.8 557.8,300.5 558.6,300.1 559.4,299.8 560.2,299.4 561.0,299.1 561.8,298.7 562.6,298.4 563.4,298.0 564.2,297.6 565.0,297.2 565.8,296.9 566.6,296.5 567.4,296.2 568.2,295.9 569.0,295.6 569.8,295.2 570.6,294.9 571.4,294.6 572.2,294.3 573.0,294.0 573.8,293.7 574.6,293.5 575.4,293.2 576.2,293.0 577.0,292.7 577.8,292.5 578.6,292.3 579.4,292.1 580.2,291.9 581.0,291.7 581.8,291.5 582.6,291.4 583.4,291.3 584.2,291.2 585.0,291.1 585.8,291.1 586.6,291.0 587.4,290.9 588.2,290.9 589.0,290.9 589.8,290.8 593.0,291.0 596.2,291.3 597.0,291.4 597.8,291.5 598.6,291.6 599.4,291.8 600.2,292.0 601.0,292.1 601.8,292.3 602.6,292.5 603.4,292.7 604.2,292.9 605.0,293.2 605.8,293.4 606.6,293.7 607.4,294.0 608.2,294.3 609.0,294.6 609.8,295.0 610.6,295.3 611.5,295.6 612.3,295.9 613.1,296.2 613.9,296.6 614.7,296.9 615.5,297.2 616.3,297.5 617.1,297.7 617.9,298.0 618.7,298.3 619.5,298.5 620.3,298.8 621.1,299.0 621.9,299.3 622.7,299.6 623.5,299.8 624.3,300.1 625.1,300.4 625.9,300.6 626.7,300.9 627.5,301.1 628.3,301.3 629.1,301.5 629.9,301.8 630.7,302.0 631.5,302.2 632.3,302.4 633.1,302.6 633.9,302.8 634.7,302.9 635.5,303.1 636.3,303.3 637.1,303.6 637.9,303.8 638.7,304.0 639.5,304.3 640.3,304.6 641.1,304.9 641.9,305.1 642.7,305.3 643.5,305.4 644.3,305.5 645.1,305.6 645.9,305.7 646.7,305.7 647.5,305.8 648.3,305.8 649.1,305.8 649.9,305.8 650.7,305.8 651.5,305.8 652.3,305.8 653.1,305.8 653.9,305.8 654.7,305.8 655.5,305.8 656.3,305.8 657.1,305.8 657.9,305.8 658.7,305.8 659.5,305.8 660.3,305.8 661.1,305.8 661.9,305.8 662.7,305.8 663.5,305.8 664.3,305.8 665.1,305.8 665.9,305.8 666.7,305.8 667.5,305.8 668.3,305.8 669.1,305.8 669.9,305.8 670.7,305.8 671.5,305.8 672.3,305.8 673.1,305.8 673.9,305.8 674.7,305.8 675.5,305.8 676.3,305.8 677.1,305.8 677.9,305.8 678.7,305.8 679.5,305.8 680.3,305.8 681.1,305.8 681.9,305.8 682.7,305.8" fill="none" stroke="#ff8000" stroke-width="2.1" stroke-linejoin="round"/>
<path d="M394.5,305.5 395.3,305.5 396.1,305.5 396.9,305.5 397.7,305.5 398.5,305.5 399.3,305.5 400.1,305.5 400.9,305.5 401.7,305.5 402.5,305.5 403.3,305.5 404.1,305.5 404.9,305.5 405.7,305.5 406.5,305.5 407.3,305.5 408.1,305.5 408.9,305.5 409.7,305.5 410.5,305.5 411.3,305.5 412.1,305.5 412.9,305.5 413.7,305.5 414.5,305.5 415.3,305.5 416.1,305.5 416.9,305.5 417.7,305.5 418.5,305.5 419.3,305.5 420.1,305.5 420.9,305.5 421.7,305.5 422.5,305.5 423.3,305.5 424.1,305.5 424.9,305.5 425.7,305.5 426.5,305.5 427.3,305.5 428.1,305.5 428.9,305.5 429.7,305.5 430.5,305.5 431.3,305.5 432.1,305.5 432.9,305.5 433.7,305.5 434.5,305.5 435.3,305.4 436.1,305.4 436.9,305.4 437.7,305.4 438.5,305.3 439.3,305.3 440.1,305.3 440.9,305.2 441.7,305.2 442.5,305.2 443.3,305.2 444.1,305.2 444.9,305.1 445.7,305.1 446.5,305.1 447.3,305.1 448.1,305.0 448.9,305.0 449.7,305.0 450.5,305.0 451.3,304.9 452.1,304.9 452.9,304.9 453.7,304.8 454.5,304.8 455.3,304.8 456.1,304.7 456.9,304.7 457.7,304.7 458.5,304.7 459.3,304.6 460.1,304.6 460.9,304.6 461.7,304.5 462.5,304.5 463.3,304.5 464.1,304.4 464.9,304.4 465.7,304.4 466.6,304.3 467.4,304.3 468.2,304.2 469.0,304.2 469.8,304.2 470.6,304.1 471.4,304.1 472.2,304.1 473.0,304.0 473.8,304.0 474.6,304.0 475.4,304.0 476.2,304.0 477.0,303.9 477.8,303.9 478.6,303.9 479.4,303.9 480.2,303.9 481.0,303.9 484.2,303.8 487.4,303.8 488.2,303.8 489.0,303.8 489.8,303.8 490.6,303.8 491.4,303.8 492.2,303.8 493.0,303.9 493.8,303.9 494.6,303.9 495.4,303.9 496.2,303.9 497.0,303.9 497.8,304.0 498.6,304.0 499.4,304.0 500.2,304.0 501.0,304.1 501.8,304.1 502.6,304.1 503.4,304.1 504.2,304.2 505.0,304.2 505.8,304.2 506.6,304.3 507.4,304.3 508.2,304.4 509.0,304.4 509.8,304.4 510.6,304.5 511.4,304.5 512.2,304.5 513.0,304.6 513.8,304.6 514.6,304.7 515.4,304.7 516.2,304.8 517.0,304.8 517.8,304.8 518.6,304.9 519.4,304.9 520.2,305.0 521.0,305.0 521.8,305.0 522.6,305.1 523.4,305.1 524.2,305.1 525.0,305.2 525.8,305.2 526.6,305.2 527.4,305.3 528.2,305.3 529.0,305.3 529.8,305.3 530.6,305.4 531.4,305.4 532.2,305.4 533.0,305.4 533.8,305.4 534.6,305.4 535.4,305.5 536.2,305.5 537.0,305.5 537.8,305.5 538.6,305.5 539.4,305.5 540.2,305.5 541.0,305.5 541.8,305.5 542.6,305.4 543.4,305.4 544.2,305.4 545.0,305.4 545.8,305.4 546.6,305.4 547.4,305.3 548.2,305.3 549.0,305.3 549.8,305.3 550.6,305.2 551.4,305.2 552.2,305.2 553.0,305.1 553.8,305.1 554.6,305.1 555.4,305.0 556.2,305.0 557.0,305.0 557.8,304.9 558.6,304.9 559.4,304.8 560.2,304.8 561.0,304.8 561.8,304.7 562.6,304.7 563.4,304.6 564.2,304.6 565.0,304.5 565.8,304.5 566.6,304.5 567.4,304.4 568.2,304.4 569.0,304.4 569.8,304.3 570.6,304.3 571.4,304.2 572.2,304.2 573.0,304.2 573.8,304.1 574.6,304.1 575.4,304.1 576.2,304.1 577.0,304.0 577.8,304.0 578.6,304.0 579.4,304.0 580.2,303.9 581.0,303.9 581.8,303.9 582.6,303.9 583.4,303.9 584.2,303.9 585.0,303.8 585.8,303.8 586.6,303.8 587.4,303.8 588.2,303.8 589.0,303.8 589.8,303.8 593.0,303.8 596.2,303.9 597.0,303.9 597.8,303.9 598.6,303.9 599.4,303.9 600.2,303.9 601.0,304.0 601.8,304.0 602.6,304.0 603.4,304.0 604.2,304.0 605.0,304.1 605.8,304.1 606.6,304.1 607.4,304.2 608.2,304.2 609.0,304.2 609.8,304.3 610.6,304.3 611.5,304.4 612.3,304.4 613.1,304.4 613.9,304.5 614.7,304.5 615.5,304.5 616.3,304.6 617.1,304.6 617.9,304.6 618.7,304.7 619.5,304.7 620.3,304.7 621.1,304.7 621.9,304.8 622.7,304.8 623.5,304.8 624.3,304.9 625.1,304.9 625.9,304.9 626.7,305.0 627.5,305.0 628.3,305.0 629.1,305.0 629.9,305.1 630.7,305.1 631.5,305.1 632.3,305.1 633.1,305.2 633.9,305.2 634.7,305.2 635.5,305.2 636.3,305.2 637.1,305.3 637.9,305.3 638.7,305.3 639.5,305.4 640.3,305.4 641.1,305.4 641.9,305.4 642.7,305.5 643.5,305.5 644.3,305.5 645.1,305.5 645.9,305.5 646.7,305.5 647.5,305.5 648.3,305.5 649.1,305.5 649.9,305.5 650.7,305.5 651.5,305.5 652.3,305.5 653.1,305.5 653.9,305.5 654.7,305.5 655.5,305.5 656.3,305.5 657.1,305.5 657.9,305.5 658.7,305.5 659.5,305.5 660.3,305.5 661.1,305.5 661.9,305.5 662.7,305.5 663.5,305.5 664.3,305.5 665.1,305.5 665.9,305.5 666.7,305.5 667.5,305.5 668.3,305.5 669.1,305.5 669.9,305.5 670.7,305.5 671.5,305.5 672.3,305.5 673.1,305.5 673.9,305.5 674.7,305.5 675.5,305.5 676.3,305.5 677.1,305.5 677.9,305.5 678.7,305.5 679.5,305.5 680.3,305.5 681.1,305.5 681.9,305.5 682.7,305.5" fill="none" stroke="#00ff00" stroke-width="2.1" stroke-linejoin="round"/>
<path d="M394.5,305.8 395.3,305.8 396.1,305.7 396.9,305.7 397.7,305.6 398.5,305.5 399.3,305.4 400.1,305.3 400.9,305.1 401.7,304.9 402.5,304.8 403.3,304.7 404.1,304.5 404.9,304.4 405.7,304.3 406.5,304.2 407.3,304.2 408.1,304.1 408.9,304.0 409.7,304.0 410.5,303.9 411.3,303.9 412.1,303.9 412.9,303.9 413.7,304.0 414.5,304.0 415.3,304.1 416.1,304.2 416.9,304.3 417.7,304.4 418.5,304.6 419.3,304.8 420.1,304.9 420.9,305.0 421.7,305.1 422.5,305.2 423.3,305.2 424.1,305.3 424.9,305.3 425.7,305.3 426.5,305.2 427.3,305.1 428.1,305.0 428.9,304.9 429.7,304.6 430.5,304.3 431.3,303.9 432.1,303.5 432.9,303.0 433.7,302.3 434.5,301.5 435.3,300.5 436.1,299.4 436.9,297.9 437.7,296.2 438.5,294.4 439.3,292.6 440.1,290.6 440.9,288.6 441.7,286.3 442.5,284.0 443.3,281.5 444.1,278.5 444.9,275.2 445.7,271.3 446.5,267.2 447.3,262.7 448.1,257.6 448.9,251.9 449.7,246.2 450.5,240.7 451.3,235.2 452.1,229.7 452.9,223.9 453.7,218.1 454.5,212.2 455.3,206.2 456.1,200.1 456.9,193.9 457.7,187.7 458.5,181.4 459.3,175.1 460.1,168.8 460.9,162.4 461.7,156.1 462.5,149.8 463.3,143.7 464.1,137.6 464.9,131.6 465.7,125.6 466.6,119.8 467.4,114.1 468.2,108.5 469.0,103.1 469.8,97.8 470.6,92.7 471.4,87.8 472.2,83.3 473.0,78.9 473.8,74.9 474.6,71.0 475.4,67.3 476.2,64.2 477.0,61.6 477.8,59.3 478.6,57.6 479.4,56.6 480.2,55.8 481.0,55.1 484.2,52.1 487.4,55.1 488.2,56.4 489.0,58.1 489.8,60.3 490.6,63.0 491.4,65.9 492.2,68.9 493.0,72.2 493.8,75.7 494.6,79.3 495.4,83.3 496.2,87.3 497.0,91.6 497.8,96.0 498.6,100.5 499.4,105.2 500.2,110.0 501.0,115.0 501.8,120.0 502.6,125.2 503.4,130.5 504.2,135.8 505.0,141.2 505.8,146.7 506.6,152.2 507.4,157.8 508.2,163.4 509.0,169.1 509.8,174.8 510.6,180.4 511.4,186.1 512.2,191.8 513.0,197.5 513.8,203.0 514.6,208.5 515.4,213.9 516.2,219.3 517.0,224.7 517.8,229.9 518.6,235.1 519.4,240.2 520.2,245.2 521.0,250.0 521.8,254.6 522.6,259.1 523.4,263.4 524.2,267.6 525.0,271.5 525.8,275.4 526.6,279.2 527.4,282.6 528.2,285.7 529.0,288.6 529.8,291.1 530.6,293.2 531.4,295.0 532.2,296.7 533.0,298.2 533.8,299.7 534.6,301.2 535.4,302.5 536.2,303.7 537.0,304.5 537.8,305.0 538.6,305.3 539.4,305.0 540.2,304.5 541.0,303.7 541.8,302.5 542.6,301.2 543.4,299.7 544.2,298.2 545.0,296.7 545.8,295.0 546.6,293.2 547.4,291.1 548.2,288.6 549.0,285.7 549.8,282.6 550.6,279.2 551.4,275.4 552.2,271.5 553.0,267.6 553.8,263.4 554.6,259.1 555.4,254.6 556.2,250.0 557.0,245.2 557.8,240.2 558.6,235.1 559.4,229.9 560.2,224.7 561.0,219.3 561.8,213.9 562.6,208.5 563.4,203.0 564.2,197.5 565.0,191.8 565.8,186.1 566.6,180.4 567.4,174.8 568.2,169.1 569.0,163.4 569.8,157.8 570.6,152.2 571.4,146.7 572.2,141.2 573.0,135.8 573.8,130.5 574.6,125.2 575.4,120.0 576.2,115.0 577.0,110.0 577.8,105.2 578.6,100.5 579.4,96.0 580.2,91.6 581.0,87.3 581.8,83.3 582.6,79.3 583.4,75.7 584.2,72.2 585.0,68.9 585.8,65.9 586.6,63.0 587.4,60.3 588.2,58.1 589.0,56.4 589.8,55.1 593.0,52.1 596.2,55.1 597.0,55.8 597.8,56.6 598.6,57.6 599.4,59.3 600.2,61.6 601.0,64.2 601.8,67.3 602.6,71.0 603.4,74.9 604.2,78.9 605.0,83.3 605.8,87.8 606.6,92.7 607.4,97.8 608.2,103.1 609.0,108.5 609.8,114.1 610.6,119.8 611.5,125.6 612.3,131.6 613.1,137.6 613.9,143.7 614.7,149.8 615.5,156.1 616.3,162.4 617.1,168.8 617.9,175.1 618.7,181.4 619.5,187.7 620.3,193.9 621.1,200.1 621.9,206.2 622.7,212.2 623.5,218.1 624.3,223.9 625.1,229.7 625.9,235.2 626.7,240.7 627.5,246.2 628.3,251.9 629.1,257.6 629.9,262.7 630.7,267.2 631.5,271.3 632.3,275.2 633.1,278.5 633.9,281.5 634.7,284.0 635.5,286.3 636.3,288.6 637.1,290.6 637.9,292.6 638.7,294.4 639.5,296.2 640.3,297.9 641.1,299.4 641.9,300.5 642.7,301.5 643.5,302.3 644.3,303.0 645.1,303.5 645.9,303.9 646.7,304.3 647.5,304.6 648.3,304.9 649.1,305.0 649.9,305.1 650.7,305.2 651.5,305.3 652.3,305.3 653.1,305.3 653.9,305.2 654.7,305.2 655.5,305.1 656.3,305.0 657.1,304.9 657.9,304.8 658.7,304.6 659.5,304.4 660.3,304.3 661.1,304.2 661.9,304.1 662.7,304.0 663.5,304.0 664.3,303.9 665.1,303.9 665.9,303.9 666.7,303.9 667.5,304.0 668.3,304.0 669.1,304.1 669.9,304.2 670.7,304.2 671.5,304.3 672.3,304.4 673.1,304.5 673.9,304.7 674.7,304.8 675.5,304.9 676.3,305.1 677.1,305.3 677.9,305.4 678.7,305.5 679.5,305.6 680.3,305.7 681.1,305.7 681.9,305.8 682.7,305.8" fill="none" stroke="#0000ff" stroke-width="2.1" stroke-linejoin="round" stroke-dasharray="4.6,2.4"/>
<path d="M394.5,305.8 395.3,305.8 396.1,305.8 396.9,305.8 397.7,305.8 398.5,305.8 399.3,305.8 400.1,305.8 400.9,305.8 401.7,305.8 402.5,305.8 403.3,305.8 404.1,305.8 404.9,305.8 405.7,305.8 406.5,305.8 407.3,305.8 408.1,305.8 408.9,305.8 409.7,305.8 410.5,305.8 411.3,305.8 412.1,305.8 412.9,305.8 413.7,305.8 414.5,305.8 415.3,305.8 416.1,305.8 416.9,305.8 417.7,305.8 418.5,305.8 419.3,305.8 420.1,305.8 420.9,305.8 421.7,305.8 422.5,305.8 423.3,305.8 424.1,305.8 424.9,305.8 425.7,305.8 426.5,305.8 427.3,305.8 428.1,305.8 428.9,305.8 429.7,305.8 430.5,305.7 431.3,305.7 432.1,305.6 432.9,305.5 433.7,305.4 434.5,305.3 435.3,305.1 436.1,304.8 436.9,304.5 437.7,304.2 438.5,303.9 439.3,303.7 440.1,303.5 440.9,303.2 441.7,303.0 442.5,302.8 443.3,302.6 444.1,302.4 444.9,302.2 445.7,302.0 446.5,301.8 447.3,301.6 448.1,301.4 448.9,301.1 449.7,300.9 450.5,300.7 451.3,300.4 452.1,300.1 452.9,299.9 453.7,299.6 454.5,299.3 455.3,299.0 456.1,298.7 456.9,298.5 457.7,298.2 458.5,297.9 459.3,297.7 460.1,297.4 460.9,297.1 461.7,296.8 462.5,296.5 463.3,296.2 464.1,295.8 464.9,295.5 465.7,295.2 466.6,294.8 467.4,294.5 468.2,294.2 469.0,293.8 469.8,293.5 470.6,293.2 471.4,292.9 472.2,292.7 473.0,292.4 473.8,292.2 474.6,292.0 475.4,291.8 476.2,291.6 477.0,291.4 477.8,291.2 478.6,291.1 479.4,290.9 480.2,290.8 481.0,290.7 484.2,290.4 487.4,290.2 488.2,290.2 489.0,290.3 489.8,290.3 490.6,290.4 491.4,290.4 492.2,290.5 493.0,290.6 493.8,290.7 494.6,290.8 495.4,290.9 496.2,291.1 497.0,291.3 497.8,291.5 498.6,291.7 499.4,292.0 500.2,292.2 501.0,292.4 501.8,292.7 502.6,293.0 503.4,293.2 504.2,293.5 505.0,293.8 505.8,294.2 506.6,294.5 507.4,294.8 508.2,295.1 509.0,295.5 509.8,295.8 510.6,296.1 511.4,296.5 512.2,296.9 513.0,297.3 513.8,297.7 514.6,298.0 515.4,298.4 516.2,298.8 517.0,299.2 517.8,299.5 518.6,299.9 519.4,300.2 520.2,300.6 521.0,301.0 521.8,301.3 522.6,301.7 523.4,302.0 524.2,302.3 525.0,302.6 525.8,302.9 526.6,303.2 527.4,303.4 528.2,303.6 529.0,303.8 529.8,304.0 530.6,304.2 531.4,304.4 532.2,304.6 533.0,304.8 533.8,304.9 534.6,305.1 535.4,305.2 536.2,305.4 537.0,305.5 537.8,305.7 538.6,305.8 539.4,305.7 540.2,305.5 541.0,305.4 541.8,305.2 542.6,305.1 543.4,304.9 544.2,304.8 545.0,304.6 545.8,304.4 546.6,304.2 547.4,304.0 548.2,303.8 549.0,303.6 549.8,303.4 550.6,303.2 551.4,302.9 552.2,302.6 553.0,302.3 553.8,302.0 554.6,301.7 555.4,301.3 556.2,301.0 557.0,300.6 557.8,300.2 558.6,299.9 559.4,299.5 560.2,299.2 561.0,298.8 561.8,298.4 562.6,298.0 563.4,297.7 564.2,297.3 565.0,296.9 565.8,296.5 566.6,296.1 567.4,295.8 568.2,295.5 569.0,295.1 569.8,294.8 570.6,294.5 571.4,294.2 572.2,293.8 573.0,293.5 573.8,293.2 574.6,293.0 575.4,292.7 576.2,292.4 577.0,292.2 577.8,292.0 578.6,291.7 579.4,291.5 580.2,291.3 581.0,291.1 581.8,290.9 582.6,290.8 583.4,290.7 584.2,290.6 585.0,290.5 585.8,290.4 586.6,290.4 587.4,290.3 588.2,290.3 589.0,290.2 589.8,290.2 593.0,290.4 596.2,290.7 597.0,290.8 597.8,290.9 598.6,291.1 599.4,291.2 600.2,291.4 601.0,291.6 601.8,291.8 602.6,292.0 603.4,292.2 604.2,292.4 605.0,292.7 605.8,292.9 606.6,293.2 607.4,293.5 608.2,293.8 609.0,294.2 609.8,294.5 610.6,294.8 611.5,295.2 612.3,295.5 613.1,295.8 613.9,296.2 614.7,296.5 615.5,296.8 616.3,297.1 617.1,297.4 617.9,297.7 618.7,297.9 619.5,298.2 620.3,298.5 621.1,298.7 621.9,299.0 622.7,299.3 623.5,299.6 624.3,299.9 625.1,300.1 625.9,300.4 626.7,300.7 627.5,300.9 628.3,301.1 629.1,301.4 629.9,301.6 630.7,301.8 631.5,302.0 632.3,302.2 633.1,302.4 633.9,302.6 634.7,302.8 635.5,303.0 636.3,303.2 637.1,303.5 637.9,303.7 638.7,303.9 639.5,304.2 640.3,304.5 641.1,304.8 641.9,305.1 642.7,305.3 643.5,305.4 644.3,305.5 645.1,305.6 645.9,305.7 646.7,305.7 647.5,305.8 648.3,305.8 649.1,305.8 649.9,305.8 650.7,305.8 651.5,305.8 652.3,305.8 653.1,305.8 653.9,305.8 654.7,305.8 655.5,305.8 656.3,305.8 657.1,305.8 657.9,305.8 658.7,305.8 659.5,305.8 660.3,305.8 661.1,305.8 661.9,305.8 662.7,305.8 663.5,305.8 664.3,305.8 665.1,305.8 665.9,305.8 666.7,305.8 667.5,305.8 668.3,305.8 669.1,305.8 669.9,305.8 670.7,305.8 671.5,305.8 672.3,305.8 673.1,305.8 673.9,305.8 674.7,305.8 675.5,305.8 676.3,305.8 677.1,305.8 677.9,305.8 678.7,305.8 679.5,305.8 680.3,305.8 681.1,305.8 681.9,305.8 682.7,305.8" fill="none" stroke="#ff8000" stroke-width="2.1" stroke-linejoin="round" stroke-dasharray="4.6,2.4"/>
<path d="M394.5,305.5 395.3,305.5 396.1,305.5 396.9,305.5 397.7,305.5 398.5,305.5 399.3,305.5 400.1,305.5 400.9,305.5 401.7,305.5 402.5,305.5 403.3,305.5 404.1,305.5 404.9,305.5 405.7,305.5 406.5,305.5 407.3,305.5 408.1,305.5 408.9,305.5 409.7,305.5 410.5,305.5 411.3,305.5 412.1,305.5 412.9,305.5 413.7,305.5 414.5,305.5 415.3,305.5 416.1,305.5 416.9,305.5 417.7,305.5 418.5,305.5 419.3,305.5 420.1,305.5 420.9,305.5 421.7,305.5 422.5,305.5 423.3,305.5 424.1,305.5 424.9,305.5 425.7,305.5 426.5,305.5 427.3,305.5 428.1,305.5 428.9,305.5 429.7,305.5 430.5,305.5 431.3,305.5 432.1,305.5 432.9,305.5 433.7,305.4 434.5,305.4 435.3,305.4 436.1,305.3 436.9,305.3 437.7,305.2 438.5,305.1 439.3,305.1 440.1,305.1 440.9,305.0 441.7,305.0 442.5,304.9 443.3,304.9 444.1,304.8 444.9,304.8 445.7,304.8 446.5,304.7 447.3,304.7 448.1,304.6 448.9,304.6 449.7,304.5 450.5,304.5 451.3,304.4 452.1,304.4 452.9,304.3 453.7,304.3 454.5,304.2 455.3,304.2 456.1,304.1 456.9,304.0 457.7,304.0 458.5,303.9 459.3,303.9 460.1,303.8 460.9,303.8 461.7,303.7 462.5,303.6 463.3,303.6 464.1,303.5 464.9,303.4 465.7,303.4 466.6,303.3 467.4,303.2 468.2,303.2 469.0,303.1 469.8,303.0 470.6,303.0 471.4,302.9 472.2,302.9 473.0,302.8 473.8,302.8 474.6,302.7 475.4,302.7 476.2,302.6 477.0,302.6 477.8,302.6 478.6,302.5 479.4,302.5 480.2,302.5 481.0,302.5 484.2,302.4 487.4,302.4 488.2,302.4 489.0,302.4 489.8,302.4 490.6,302.4 491.4,302.4 492.2,302.4 493.0,302.4 493.8,302.5 494.6,302.5 495.4,302.5 496.2,302.6 497.0,302.6 497.8,302.6 498.6,302.7 499.4,302.7 500.2,302.8 501.0,302.8 501.8,302.9 502.6,302.9 503.4,303.0 504.2,303.0 505.0,303.1 505.8,303.2 506.6,303.2 507.4,303.3 508.2,303.4 509.0,303.4 509.8,303.5 510.6,303.6 511.4,303.6 512.2,303.7 513.0,303.8 513.8,303.9 514.6,304.0 515.4,304.0 516.2,304.1 517.0,304.2 517.8,304.3 518.6,304.3 519.4,304.4 520.2,304.5 521.0,304.5 521.8,304.6 522.6,304.7 523.4,304.8 524.2,304.8 525.0,304.9 525.8,304.9 526.6,305.0 527.4,305.0 528.2,305.1 529.0,305.1 529.8,305.2 530.6,305.2 531.4,305.2 532.2,305.3 533.0,305.3 533.8,305.3 534.6,305.4 535.4,305.4 536.2,305.4 537.0,305.5 537.8,305.5 538.6,305.5 539.4,305.5 540.2,305.5 541.0,305.4 541.8,305.4 542.6,305.4 543.4,305.3 544.2,305.3 545.0,305.3 545.8,305.2 546.6,305.2 547.4,305.2 548.2,305.1 549.0,305.1 549.8,305.0 550.6,305.0 551.4,304.9 552.2,304.9 553.0,304.8 553.8,304.8 554.6,304.7 555.4,304.6 556.2,304.5 557.0,304.5 557.8,304.4 558.6,304.3 559.4,304.3 560.2,304.2 561.0,304.1 561.8,304.0 562.6,304.0 563.4,303.9 564.2,303.8 565.0,303.7 565.8,303.6 566.6,303.6 567.4,303.5 568.2,303.4 569.0,303.4 569.8,303.3 570.6,303.2 571.4,303.2 572.2,303.1 573.0,303.0 573.8,303.0 574.6,302.9 575.4,302.9 576.2,302.8 577.0,302.8 577.8,302.7 578.6,302.7 579.4,302.6 580.2,302.6 581.0,302.6 581.8,302.5 582.6,302.5 583.4,302.5 584.2,302.4 585.0,302.4 585.8,302.4 586.6,302.4 587.4,302.4 588.2,302.4 589.0,302.4 589.8,302.4 593.0,302.4 596.2,302.5 597.0,302.5 597.8,302.5 598.6,302.5 599.4,302.6 600.2,302.6 601.0,302.6 601.8,302.7 602.6,302.7 603.4,302.8 604.2,302.8 605.0,302.9 605.8,302.9 606.6,303.0 607.4,303.0 608.2,303.1 609.0,303.2 609.8,303.2 610.6,303.3 611.5,303.4 612.3,303.4 613.1,303.5 613.9,303.6 614.7,303.6 615.5,303.7 616.3,303.8 617.1,303.8 617.9,303.9 618.7,303.9 619.5,304.0 620.3,304.0 621.1,304.1 621.9,304.2 622.7,304.2 623.5,304.3 624.3,304.3 625.1,304.4 625.9,304.4 626.7,304.5 627.5,304.5 628.3,304.6 629.1,304.6 629.9,304.7 630.7,304.7 631.5,304.8 632.3,304.8 633.1,304.8 633.9,304.9 634.7,304.9 635.5,305.0 636.3,305.0 637.1,305.1 637.9,305.1 638.7,305.1 639.5,305.2 640.3,305.3 641.1,305.3 641.9,305.4 642.7,305.4 643.5,305.4 644.3,305.5 645.1,305.5 645.9,305.5 646.7,305.5 647.5,305.5 648.3,305.5 649.1,305.5 649.9,305.5 650.7,305.5 651.5,305.5 652.3,305.5 653.1,305.5 653.9,305.5 654.7,305.5 655.5,305.5 656.3,305.5 657.1,305.5 657.9,305.5 658.7,305.5 659.5,305.5 660.3,305.5 661.1,305.5 661.9,305.5 662.7,305.5 663.5,305.5 664.3,305.5 665.1,305.5 665.9,305.5 666.7,305.5 667.5,305.5 668.3,305.5 669.1,305.5 669.9,305.5 670.7,305.5 671.5,305.5 672.3,305.5 673.1,305.5 673.9,305.5 674.7,305.5 675.5,305.5 676.3,305.5 677.1,305.5 677.9,305.5 678.7,305.5 679.5,305.5 680.3,305.5 681.1,305.5 681.9,305.5 682.7,305.5" fill="none" stroke="#00ff00" stroke-width="2.1" stroke-linejoin="round" stroke-dasharray="4.6,2.4"/>
<path d="M394.5,305.2 395.3,305.2 396.1,305.2 396.9,305.2 397.7,305.2 398.5,305.2 399.3,305.2 400.1,305.2 400.9,305.2 401.7,305.2 402.5,305.2 403.3,305.2 404.1,305.2 404.9,305.2 405.7,305.2 406.5,305.2 407.3,305.2 408.1,305.2 408.9,305.2 409.7,305.2 410.5,305.2 411.3,305.2 412.1,305.2 412.9,305.2 413.7,305.2 414.5,305.2 415.3,305.2 416.1,305.2 416.9,305.2 417.7,305.2 418.5,305.2 419.3,305.2 420.1,305.2 420.9,305.2 421.7,305.2 422.5,305.2 423.3,305.2 424.1,305.2 424.9,305.2 425.7,305.2 426.5,305.2 427.3,305.2 428.1,305.2 428.9,305.2 429.7,305.2 430.5,305.2 431.3,305.2 432.1,305.2 432.9,305.2 433.7,305.2 434.5,305.2 435.3,305.1 436.1,305.1 436.9,305.1 437.7,305.1 438.5,305.1 439.3,305.1 440.1,305.1 440.9,305.0 441.7,305.0 442.5,305.0 443.3,305.0 444.1,305.0 444.9,305.0 445.7,305.0 446.5,305.0 447.3,305.0 448.1,304.9 448.9,304.9 449.7,304.9 450.5,304.9 451.3,304.9 452.1,304.9 452.9,304.9 453.7,304.9 454.5,304.8 455.3,304.8 456.1,304.8 456.9,304.8 457.7,304.8 458.5,304.8 459.3,304.8 460.1,304.7 460.9,304.7 461.7,304.7 462.5,304.7 463.3,304.7 464.1,304.7 464.9,304.6 465.7,304.6 466.6,304.6 467.4,304.6 468.2,304.6 469.0,304.6 469.8,304.5 470.6,304.5 471.4,304.5 472.2,304.5 473.0,304.5 473.8,304.5 474.6,304.5 475.4,304.4 476.2,304.4 477.0,304.4 477.8,304.4 478.6,304.4 479.4,304.4 480.2,304.4 481.0,304.4 484.2,304.4 487.4,304.4 488.2,304.4 489.0,304.4 489.8,304.4 490.6,304.4 491.4,304.4 492.2,304.4 493.0,304.4 493.8,304.4 494.6,304.4 495.4,304.4 496.2,304.4 497.0,304.4 497.8,304.4 498.6,304.4 499.4,304.5 500.2,304.5 501.0,304.5 501.8,304.5 502.6,304.5 503.4,304.5 504.2,304.5 505.0,304.6 505.8,304.6 506.6,304.6 507.4,304.6 508.2,304.6 509.0,304.6 509.8,304.7 510.6,304.7 511.4,304.7 512.2,304.7 513.0,304.7 513.8,304.8 514.6,304.8 515.4,304.8 516.2,304.8 517.0,304.8 517.8,304.9 518.6,304.9 519.4,304.9 520.2,304.9 521.0,304.9 521.8,304.9 522.6,305.0 523.4,305.0 524.2,305.0 525.0,305.0 525.8,305.0 526.6,305.0 527.4,305.1 528.2,305.1 529.0,305.1 529.8,305.1 530.6,305.1 531.4,305.1 532.2,305.1 533.0,305.1 533.8,305.1 534.6,305.1 535.4,305.2 536.2,305.2 537.0,305.2 537.8,305.2 538.6,305.2 539.4,305.2 540.2,305.2 541.0,305.2 541.8,305.2 542.6,305.1 543.4,305.1 544.2,305.1 545.0,305.1 545.8,305.1 546.6,305.1 547.4,305.1 548.2,305.1 549.0,305.1 549.8,305.1 550.6,305.0 551.4,305.0 552.2,305.0 553.0,305.0 553.8,305.0 554.6,305.0 555.4,304.9 556.2,304.9 557.0,304.9 557.8,304.9 558.6,304.9 559.4,304.9 560.2,304.8 561.0,304.8 561.8,304.8 562.6,304.8 563.4,304.8 564.2,304.7 565.0,304.7 565.8,304.7 566.6,304.7 567.4,304.7 568.2,304.6 569.0,304.6 569.8,304.6 570.6,304.6 571.4,304.6 572.2,304.6 573.0,304.5 573.8,304.5 574.6,304.5 575.4,304.5 576.2,304.5 577.0,304.5 577.8,304.5 578.6,304.4 579.4,304.4 580.2,304.4 581.0,304.4 581.8,304.4 582.6,304.4 583.4,304.4 584.2,304.4 585.0,304.4 585.8,304.4 586.6,304.4 587.4,304.4 588.2,304.4 589.0,304.4 589.8,304.4 593.0,304.4 596.2,304.4 597.0,304.4 597.8,304.4 598.6,304.4 599.4,304.4 600.2,304.4 601.0,304.4 601.8,304.4 602.6,304.5 603.4,304.5 604.2,304.5 605.0,304.5 605.8,304.5 606.6,304.5 607.4,304.5 608.2,304.6 609.0,304.6 609.8,304.6 610.6,304.6 611.5,304.6 612.3,304.6 613.1,304.7 613.9,304.7 614.7,304.7 615.5,304.7 616.3,304.7 617.1,304.7 617.9,304.8 618.7,304.8 619.5,304.8 620.3,304.8 621.1,304.8 621.9,304.8 622.7,304.8 623.5,304.9 624.3,304.9 625.1,304.9 625.9,304.9 626.7,304.9 627.5,304.9 628.3,304.9 629.1,304.9 629.9,305.0 630.7,305.0 631.5,305.0 632.3,305.0 633.1,305.0 633.9,305.0 634.7,305.0 635.5,305.0 636.3,305.0 637.1,305.1 637.9,305.1 638.7,305.1 639.5,305.1 640.3,305.1 641.1,305.1 641.9,305.1 642.7,305.2 643.5,305.2 644.3,305.2 645.1,305.2 645.9,305.2 646.7,305.2 647.5,305.2 648.3,305.2 649.1,305.2 649.9,305.2 650.7,305.2 651.5,305.2 652.3,305.2 653.1,305.2 653.9,305.2 654.7,305.2 655.5,305.2 656.3,305.2 657.1,305.2 657.9,305.2 658.7,305.2 659.5,305.2 660.3,305.2 661.1,305.2 661.9,305.2 662.7,305.2 663.5,305.2 664.3,305.2 665.1,305.2 665.9,305.2 666.7,305.2 667.5,305.2 668.3,305.2 669.1,305.2 669.9,305.2 670.7,305.2 671.5,305.2 672.3,305.2 673.1,305.2 673.9,305.2 674.7,305.2 675.5,305.2 676.3,305.2 677.1,305.2 677.9,305.2 678.7,305.2 679.5,305.2 680.3,305.2 681.1,305.2 681.9,305.2 682.7,305.2" fill="none" stroke="#ff0000" stroke-width="2.1" stroke-linejoin="round" stroke-dasharray="4.6,2.4"/>
<path d="M394.5,305.3 395.3,305.3 396.1,305.3 396.9,305.3 397.7,305.3 398.5,305.3 399.3,305.3 400.1,305.3 400.9,305.3 401.7,305.3 402.5,305.3 403.3,305.3 404.1,305.3 404.9,305.3 405.7,305.3 406.5,305.3 407.3,305.3 408.1,305.3 408.9,305.3 409.7,305.3 410.5,305.3 411.3,305.3 412.1,305.3 412.9,305.3 413.7,305.3 414.5,305.3 415.3,305.3 416.1,305.3 416.9,305.3 417.7,305.3 418.5,305.3 419.3,305.3 420.1,305.3 420.9,305.3 421.7,305.3 422.5,305.3 423.3,305.3 424.1,305.3 424.9,305.3 425.7,305.3 426.5,305.3 427.3,305.3 428.1,305.3 428.9,305.3 429.7,305.2 430.5,305.2 431.3,305.2 432.1,305.2 432.9,305.2 433.7,305.2 434.5,305.2 435.3,305.2 436.1,305.2 436.9,305.2 437.7,305.2 438.5,305.2 439.3,305.1 440.1,305.1 440.9,305.1 441.7,305.1 442.5,305.1 443.3,305.1 444.1,305.1 444.9,305.1 445.7,305.1 446.5,305.0 447.3,305.0 448.1,305.0 448.9,305.0 449.7,305.0 450.5,305.0 451.3,305.0 452.1,305.0 452.9,304.9 453.7,304.9 454.5,304.9 455.3,304.9 456.1,304.9 456.9,304.9 457.7,304.9 458.5,304.8 459.3,304.8 460.1,304.8 460.9,304.8 461.7,304.8 462.5,304.8 463.3,304.7 464.1,304.7 464.9,304.7 465.7,304.7 466.6,304.7 467.4,304.7 468.2,304.6 469.0,304.6 469.8,304.6 470.6,304.6 471.4,304.6 472.2,304.6 473.0,304.5 473.8,304.5 474.6,304.5 475.4,304.5 476.2,304.5 477.0,304.5 477.8,304.5 478.6,304.5 479.4,304.5 480.2,304.5 481.0,304.5 484.2,304.4 487.4,304.4 488.2,304.4 489.0,304.4 489.8,304.4 490.6,304.4 491.4,304.4 492.2,304.4 493.0,304.4 493.8,304.5 494.6,304.5 495.4,304.5 496.2,304.5 497.0,304.5 497.8,304.5 498.6,304.5 499.4,304.5 500.2,304.5 501.0,304.5 501.8,304.6 502.6,304.6 503.4,304.6 504.2,304.6 505.0,304.6 505.8,304.6 506.6,304.7 507.4,304.7 508.2,304.7 509.0,304.7 509.8,304.7 510.6,304.7 511.4,304.8 512.2,304.8 513.0,304.8 513.8,304.8 514.6,304.8 515.4,304.9 516.2,304.9 517.0,304.9 517.8,304.9 518.6,304.9 519.4,305.0 520.2,305.0 521.0,305.0 521.8,305.0 522.6,305.0 523.4,305.1 524.2,305.1 525.0,305.1 525.8,305.1 526.6,305.1 527.4,305.1 528.2,305.1 529.0,305.1 529.8,305.2 530.6,305.2 531.4,305.2 532.2,305.2 533.0,305.2 533.8,305.2 534.6,305.2 535.4,305.2 536.2,305.2 537.0,305.2 537.8,305.2 538.6,305.3 539.4,305.2 540.2,305.2 541.0,305.2 541.8,305.2 542.6,305.2 543.4,305.2 544.2,305.2 545.0,305.2 545.8,305.2 546.6,305.2 547.4,305.2 548.2,305.1 549.0,305.1 549.8,305.1 550.6,305.1 551.4,305.1 552.2,305.1 553.0,305.1 553.8,305.1 554.6,305.0 555.4,305.0 556.2,305.0 557.0,305.0 557.8,305.0 558.6,304.9 559.4,304.9 560.2,304.9 561.0,304.9 561.8,304.9 562.6,304.8 563.4,304.8 564.2,304.8 565.0,304.8 565.8,304.8 566.6,304.7 567.4,304.7 568.2,304.7 569.0,304.7 569.8,304.7 570.6,304.7 571.4,304.6 572.2,304.6 573.0,304.6 573.8,304.6 574.6,304.6 575.4,304.6 576.2,304.5 577.0,304.5 577.8,304.5 578.6,304.5 579.4,304.5 580.2,304.5 581.0,304.5 581.8,304.5 582.6,304.5 583.4,304.5 584.2,304.4 585.0,304.4 585.8,304.4 586.6,304.4 587.4,304.4 588.2,304.4 589.0,304.4 589.8,304.4 593.0,304.4 596.2,304.5 597.0,304.5 597.8,304.5 598.6,304.5 599.4,304.5 600.2,304.5 601.0,304.5 601.8,304.5 602.6,304.5 603.4,304.5 604.2,304.5 605.0,304.6 605.8,304.6 606.6,304.6 607.4,304.6 608.2,304.6 609.0,304.6 609.8,304.7 610.6,304.7 611.5,304.7 612.3,304.7 613.1,304.7 613.9,304.7 614.7,304.8 615.5,304.8 616.3,304.8 617.1,304.8 617.9,304.8 618.7,304.8 619.5,304.9 620.3,304.9 621.1,304.9 621.9,304.9 622.7,304.9 623.5,304.9 624.3,304.9 625.1,305.0 625.9,305.0 626.7,305.0 627.5,305.0 628.3,305.0 629.1,305.0 629.9,305.0 630.7,305.0 631.5,305.1 632.3,305.1 633.1,305.1 633.9,305.1 634.7,305.1 635.5,305.1 636.3,305.1 637.1,305.1 637.9,305.1 638.7,305.2 639.5,305.2 640.3,305.2 641.1,305.2 641.9,305.2 642.7,305.2 643.5,305.2 644.3,305.2 645.1,305.2 645.9,305.2 646.7,305.2 647.5,305.2 648.3,305.3 649.1,305.3 649.9,305.3 650.7,305.3 651.5,305.3 652.3,305.3 653.1,305.3 653.9,305.3 654.7,305.3 655.5,305.3 656.3,305.3 657.1,305.3 657.9,305.3 658.7,305.3 659.5,305.3 660.3,305.3 661.1,305.3 661.9,305.3 662.7,305.3 663.5,305.3 664.3,305.3 665.1,305.3 665.9,305.3 666.7,305.3 667.5,305.3 668.3,305.3 669.1,305.3 669.9,305.3 670.7,305.3 671.5,305.3 672.3,305.3 673.1,305.3 673.9,305.3 674.7,305.3 675.5,305.3 676.3,305.3 677.1,305.3 677.9,305.3 678.7,305.3 679.5,305.3 680.3,305.3 681.1,305.3 681.9,305.3 682.7,305.3" fill="none" stroke="#ff0000" stroke-width="2.1" stroke-linejoin="round"/>
</g>
<path d="M394.5,305.80h4.0M682.7,305.80h-4.0M394.5,292.08h2.3M682.7,292.08h-2.3M394.5,278.37h2.3M682.7,278.37h-2.3M394.5,264.65h2.3M682.7,264.65h-2.3M394.5,250.94h2.3M682.7,250.94h-2.3M394.5,237.22h4.0M682.7,237.22h-4.0M394.5,223.50h2.3M682.7,223.50h-2.3M394.5,209.79h2.3M682.7,209.79h-2.3M394.5,196.07h2.3M682.7,196.07h-2.3M394.5,182.36h2.3M682.7,182.36h-2.3M394.5,168.64h4.0M682.7,168.64h-4.0M394.5,154.92h2.3M682.7,154.92h-2.3M394.5,141.21h2.3M682.7,141.21h-2.3M394.5,127.49h2.3M682.7,127.49h-2.3M394.5,113.78h2.3M682.7,113.78h-2.3M394.5,100.06h4.0M682.7,100.06h-4.0M394.5,86.34h2.3M682.7,86.34h-2.3M394.5,72.63h2.3M682.7,72.63h-2.3M394.5,58.91h2.3M682.7,58.91h-2.3M394.5,45.20h2.3M682.7,45.20h-2.3M394.5,31.48h4.0M682.7,31.48h-4.0M402.51,305.8v-2.3M402.51,17.4v2.3M410.51,305.8v-2.3M410.51,17.4v2.3M418.52,305.8v-2.3M418.52,17.4v2.3M426.52,305.8v-2.3M426.52,17.4v2.3M434.53,305.8v-4.0M434.53,17.4v4.0M442.53,305.8v-2.3M442.53,17.4v2.3M450.54,305.8v-2.3M450.54,17.4v2.3M458.54,305.8v-2.3M458.54,17.4v2.3M466.55,305.8v-2.3M466.55,17.4v2.3M474.56,305.8v-4.0M474.56,17.4v4.0M482.56,305.8v-2.3M482.56,17.4v2.3M490.57,305.8v-2.3M490.57,17.4v2.3M498.57,305.8v-2.3M498.57,17.4v2.3M506.58,305.8v-2.3M506.58,17.4v2.3M514.58,305.8v-4.0M514.58,17.4v4.0M522.59,305.8v-2.3M522.59,17.4v2.3M530.59,305.8v-2.3M530.59,17.4v2.3M538.60,305.8v-2.3M538.60,17.4v2.3M546.61,305.8v-2.3M546.61,17.4v2.3M554.61,305.8v-4.0M554.61,17.4v4.0M562.62,305.8v-2.3M562.62,17.4v2.3M570.62,305.8v-2.3M570.62,17.4v2.3M578.63,305.8v-2.3M578.63,17.4v2.3M586.63,305.8v-2.3M586.63,17.4v2.3M594.64,305.8v-4.0M594.64,17.4v4.0M602.64,305.8v-2.3M602.64,17.4v2.3M610.65,305.8v-2.3M610.65,17.4v2.3M618.66,305.8v-2.3M618.66,17.4v2.3M626.66,305.8v-2.3M626.66,17.4v2.3M634.67,305.8v-4.0M634.67,17.4v4.0M642.67,305.8v-2.3M642.67,17.4v2.3M650.68,305.8v-2.3M650.68,17.4v2.3M658.68,305.8v-2.3M658.68,17.4v2.3M666.69,305.8v-2.3M666.69,17.4v2.3M674.69,305.8v-4.0M674.69,17.4v4.0" stroke="#2a2a2a" stroke-width="1.15" fill="none"/>
<rect x="394.5" y="17.4" width="288.2" height="288.40000000000003" fill="none" stroke="#3c3c3c" stroke-width="1.05"/>
</svg>
<div class="ttl" style="left:-22.9px">Tree−level vs Loop−Corrected</div>
<div class="yt" style="left:-7.0px;top:298.2px">0</div>
<div class="yt" style="left:-7.0px;top:229.6px">1</div>
<div class="yt" style="left:-7.0px;top:161.0px">2</div>
<div class="yt" style="left:-7.0px;top:92.5px">3</div>
<div class="yt" style="left:-7.0px;top:23.9px">4</div>
<div class="xt" style="left:13.00px">0</div>
<div class="xt" style="left:53.03px">50</div>
<div class="xt" style="left:93.06px">100</div>
<div class="xt" style="left:133.08px">150</div>
<div class="xt" style="left:173.11px">200</div>
<div class="xt" style="left:213.14px">250</div>
<div class="xt" style="left:253.17px">300</div>
<div class="xt" style="left:293.19px">350</div>
<div class="yl" style="left:-92.06px;top:151.3px">%CP−odd</div>
<div class="xl" style="left:127.1px"><i class="phi">φ</i><i class="sub">A</i><span class="br">[°]</span></div>
<div class="lg" style="left:145.8px;top:43.3px;background:#0000ff"></div>
<div class="lt" style="left:170.0px;top:37.8px"><i>M</i><span class="ss"><i class="sp">+</i><i class="sb">H</i></span><span class="eq">=</span>200[GeV]</div>
<div class="lg" style="left:145.8px;top:63.0px;background:#ff8000"></div>
<div class="lt" style="left:170.0px;top:57.5px"><i>M</i><span class="ss"><i class="sp">+</i><i class="sb">H</i></span><span class="eq">=</span>300</div>
<div class="lg" style="left:145.8px;top:82.8px;background:#00ff00"></div>
<div class="lt" style="left:170.0px;top:77.3px"><i>M</i><span class="ss"><i class="sp">+</i><i class="sb">H</i></span><span class="eq">=</span>400</div>
<div class="lg" style="left:145.8px;top:102.5px;background:#ff0000"></div>
<div class="lt" style="left:170.0px;top:97.0px"><i>M</i><span class="ss"><i class="sp">+</i><i class="sb">H</i></span><span class="eq">=</span>500</div>
<div class="ttl" style="left:338.6px">Pure THDM vs Resummed</div>
<div class="yt" style="left:354.5px;top:298.2px">0</div>
<div class="yt" style="left:354.5px;top:229.6px">1</div>
<div class="yt" style="left:354.5px;top:161.0px">2</div>
<div class="yt" style="left:354.5px;top:92.5px">3</div>
<div class="yt" style="left:354.5px;top:23.9px">4</div>
<div class="xt" style="left:374.50px">0</div>
<div class="xt" style="left:414.53px">50</div>
<div class="xt" style="left:454.56px">100</div>
<div class="xt" style="left:494.58px">150</div>
<div class="xt" style="left:534.61px">200</div>
<div class="xt" style="left:574.64px">250</div>
<div class="xt" style="left:614.67px">300</div>
<div class="xt" style="left:654.69px">350</div>
<div class="yl" style="left:269.44px;top:151.3px">%CP−odd</div>
<div class="xl" style="left:488.6px"><i class="phi">φ</i><i class="sub">A</i><span class="br">[°]</span></div>
<div class="lg" style="left:507.3px;top:43.3px;background:#0000ff"></div>
<div class="lt" style="left:531.5px;top:37.8px"><i>M</i><span class="ss"><i class="sp">+</i><i class="sb">H</i></span><span class="eq">=</span>200[GeV]</div>
<div class="lg" style="left:507.3px;top:63.0px;background:#ff8000"></div>
<div class="lt" style="left:531.5px;top:57.5px"><i>M</i><span class="ss"><i class="sp">+</i><i class="sb">H</i></span><span class="eq">=</span>300</div>
<div class="lg" style="left:507.3px;top:82.8px;background:#00ff00"></div>
<div class="lt" style="left:531.5px;top:77.3px"><i>M</i><span class="ss"><i class="sp">+</i><i class="sb">H</i></span><span class="eq">=</span>400</div>
<div class="lg" style="left:507.3px;top:102.5px;background:#ff0000"></div>
<div class="lt" style="left:531.5px;top:97.0px"><i>M</i><span class="ss"><i class="sp">+</i><i class="sb">H</i></span><span class="eq">=</span>500</div>
<div class="cl" style="left:0.0px;top:352.0px;letter-spacing:0"><b>(a)</b></div>
<div class="cl j" style="left:32.9px;width:290.1px;top:352.0px">The solid curves are calculated us-</div>
<div class="cl j" style="left:0.6px;width:322.4px;top:373.3px">ing the tree-level mixing matrix, and the</div>
<div class="cl j" style="left:0.6px;width:322.4px;top:394.6px">dashed curves are calculated using the</div>
<div class="cl j" style="left:0.6px;width:322.4px;top:415.9px">one-loop mixing matrix at zero-external</div>
<div class="cl j" style="left:0.6px;width:322.4px;top:437.2px">momentum (<i>p</i><sup>2</sup> = 0), both calculated at</div>
<div class="cl" style="left:0.6px;width:322.4px;top:458.5px"><span class="m"><i style="left:0">μ</i><span style="left:15.6px;transform:scaleX(1.12)">=</span><i style="left:34.0px;transform:scaleX(1.1)">M</i><i class="s" style="left:51.8px">H</i><span class="s" style="left:64.6px">+</span></span></div>
<div class="cl" style="left:358.9px;top:352.0px;letter-spacing:0"><b>(b)</b></div>
<div class="cl j" style="left:392.4px;width:292.1px;top:352.0px">The solid curves are calculated using</div>
<div class="cl j" style="left:359.5px;width:325.0px;top:373.3px">the tree-level mass matrix without the re-</div>
<div class="cl j" style="left:359.5px;width:325.0px;top:394.6px">summed log contribution, and the dashed</div>
<div class="cl j" style="left:359.5px;width:325.0px;top:415.9px">curves include the log resummation, both</div>
<div class="cl" style="left:359.5px;width:325.0px;top:437.2px">at<span style="display:inline-block;width:11.2px"></span><span class="m"><i style="left:0">μ</i><span style="left:15.6px;transform:scaleX(1.12)">=</span><i style="left:34.0px;transform:scaleX(1.1)">M</i><i class="s" style="left:51.8px">H</i><span class="s" style="left:64.6px">+</span></span></div>
</body></html>
